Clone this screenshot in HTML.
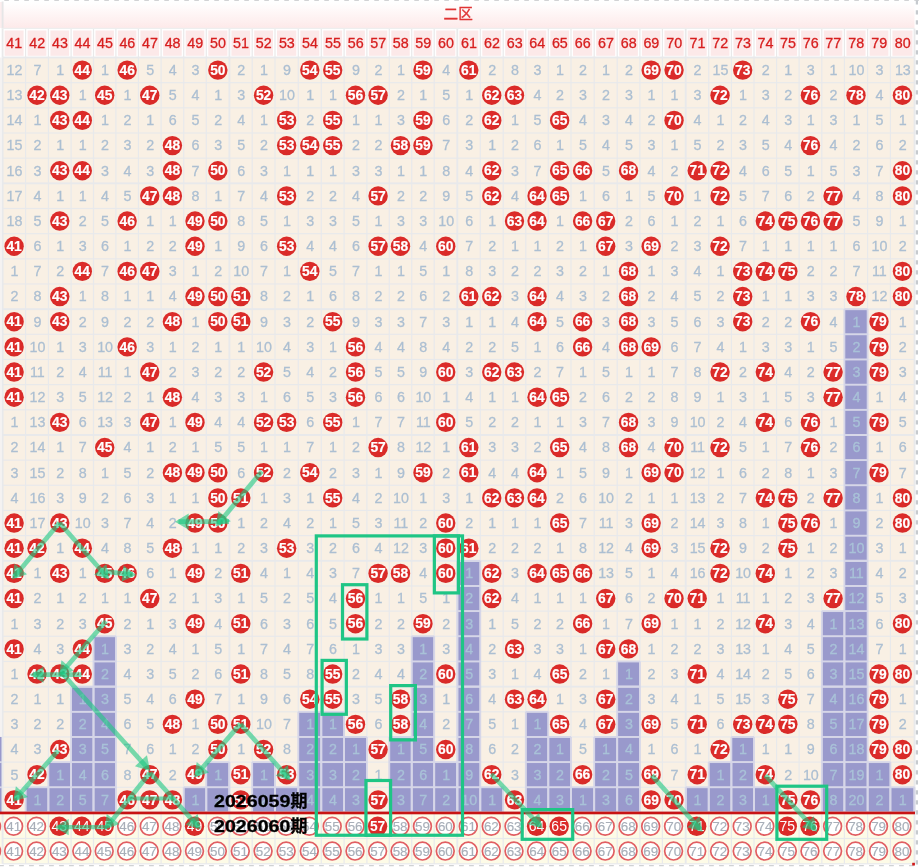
<!DOCTYPE html>
<html lang="zh-CN"><head><meta charset="utf-8"><title>二区</title>
<style>html,body{margin:0;padding:0;background:#fff}body{width:920px;height:867px;overflow:hidden}svg{display:block}</style>
</head><body>
<svg width="920" height="867" viewBox="0 0 920 867" font-family="'Liberation Sans','Noto Sans CJK SC',sans-serif">
<defs>
<linearGradient id="tg" x1="0" y1="0" x2="0" y2="1"><stop offset="0" stop-color="#ffffff"/><stop offset="0.25" stop-color="#fffafa"/><stop offset="1" stop-color="#fde9e9"/></linearGradient>
<radialGradient id="bg" cx="0.45" cy="0.4" r="0.62"><stop offset="0" stop-color="#de2d2b"/><stop offset="0.8" stop-color="#da2a28"/><stop offset="1" stop-color="#d42b2a"/></radialGradient>
</defs>
<rect width="920" height="867" fill="#ffffff"/>
<rect x="0" y="2" width="3" height="26" fill="#fdeeee"/>
<rect x="0" y="57.5" width="1.6" height="754.95" fill="#f5f2f1"/>
<rect x="0" y="736.95" width="1.8" height="75.5" fill="#9999cc"/>
<rect x="0" y="761.22" width="1.8" height="1.8" fill="#d6d6e8"/>
<rect x="0" y="786.38" width="1.8" height="1.8" fill="#d6d6e8"/>
<rect x="0" y="812.45" width="3" height="51.35" fill="#fdfbe7"/>
<rect x="2.6" y="2" width="911.9" height="26.5" fill="url(#tg)"/>
<rect x="1.65" y="1.5" width="1.9" height="27" fill="#e6e6e7"/>
<text x="458.2" y="19.3" font-size="14.6" fill="#e03434" stroke="#e03434" stroke-width="0.35" text-anchor="middle">二区</text>
<rect x="2.6" y="28.5" width="911.9" height="29" fill="#ffffff"/>
<rect x="4.6" y="30.5" width="19" height="25.3" fill="#fce9e9"/>
<text x="14.3" y="48.4" font-size="14.3" fill="#d71f1f" stroke="#d71f1f" stroke-width="0.3" text-anchor="middle">41</text>
<rect x="27.6" y="30.5" width="18.8" height="25.3" fill="#fce9e9"/>
<text x="37.2" y="48.4" font-size="14.3" fill="#d71f1f" stroke="#d71f1f" stroke-width="0.3" text-anchor="middle">42</text>
<rect x="50.4" y="30.5" width="18.7" height="25.3" fill="#fce9e9"/>
<text x="59.95" y="48.4" font-size="14.3" fill="#d71f1f" stroke="#d71f1f" stroke-width="0.3" text-anchor="middle">43</text>
<rect x="73.1" y="30.5" width="18.4" height="25.3" fill="#fce9e9"/>
<text x="82.5" y="48.4" font-size="14.3" fill="#d71f1f" stroke="#d71f1f" stroke-width="0.3" text-anchor="middle">44</text>
<rect x="95.5" y="30.5" width="18.4" height="25.3" fill="#fce9e9"/>
<text x="104.9" y="48.4" font-size="14.3" fill="#d71f1f" stroke="#d71f1f" stroke-width="0.3" text-anchor="middle">45</text>
<rect x="117.9" y="30.5" width="18.5" height="25.3" fill="#fce9e9"/>
<text x="127.35" y="48.4" font-size="14.3" fill="#d71f1f" stroke="#d71f1f" stroke-width="0.3" text-anchor="middle">46</text>
<rect x="140.4" y="30.5" width="18.7" height="25.3" fill="#fce9e9"/>
<text x="149.95" y="48.4" font-size="14.3" fill="#d71f1f" stroke="#d71f1f" stroke-width="0.3" text-anchor="middle">47</text>
<rect x="163.1" y="30.5" width="18.6" height="25.3" fill="#fce9e9"/>
<text x="172.6" y="48.4" font-size="14.3" fill="#d71f1f" stroke="#d71f1f" stroke-width="0.3" text-anchor="middle">48</text>
<rect x="185.7" y="30.5" width="18.6" height="25.3" fill="#fce9e9"/>
<text x="195.2" y="48.4" font-size="14.3" fill="#d71f1f" stroke="#d71f1f" stroke-width="0.3" text-anchor="middle">49</text>
<rect x="208.3" y="30.5" width="19.1" height="25.3" fill="#fce9e9"/>
<text x="218.05" y="48.4" font-size="14.3" fill="#d71f1f" stroke="#d71f1f" stroke-width="0.3" text-anchor="middle">50</text>
<rect x="231.4" y="30.5" width="18.8" height="25.3" fill="#fce9e9"/>
<text x="241" y="48.4" font-size="14.3" fill="#d71f1f" stroke="#d71f1f" stroke-width="0.3" text-anchor="middle">51</text>
<rect x="254.2" y="30.5" width="18.8" height="25.3" fill="#fce9e9"/>
<text x="263.8" y="48.4" font-size="14.3" fill="#d71f1f" stroke="#d71f1f" stroke-width="0.3" text-anchor="middle">52</text>
<rect x="277" y="30.5" width="19.3" height="25.3" fill="#fce9e9"/>
<text x="286.85" y="48.4" font-size="14.3" fill="#d71f1f" stroke="#d71f1f" stroke-width="0.3" text-anchor="middle">53</text>
<rect x="300.3" y="30.5" width="19" height="25.3" fill="#fce9e9"/>
<text x="310" y="48.4" font-size="14.3" fill="#d71f1f" stroke="#d71f1f" stroke-width="0.3" text-anchor="middle">54</text>
<rect x="323.3" y="30.5" width="18.8" height="25.3" fill="#fce9e9"/>
<text x="332.9" y="48.4" font-size="14.3" fill="#d71f1f" stroke="#d71f1f" stroke-width="0.3" text-anchor="middle">55</text>
<rect x="346.1" y="30.5" width="18.8" height="25.3" fill="#fce9e9"/>
<text x="355.7" y="48.4" font-size="14.3" fill="#d71f1f" stroke="#d71f1f" stroke-width="0.3" text-anchor="middle">56</text>
<rect x="368.9" y="30.5" width="18.4" height="25.3" fill="#fce9e9"/>
<text x="378.3" y="48.4" font-size="14.3" fill="#d71f1f" stroke="#d71f1f" stroke-width="0.3" text-anchor="middle">57</text>
<rect x="391.3" y="30.5" width="18.4" height="25.3" fill="#fce9e9"/>
<text x="400.7" y="48.4" font-size="14.3" fill="#d71f1f" stroke="#d71f1f" stroke-width="0.3" text-anchor="middle">58</text>
<rect x="413.7" y="30.5" width="18.5" height="25.3" fill="#fce9e9"/>
<text x="423.15" y="48.4" font-size="14.3" fill="#d71f1f" stroke="#d71f1f" stroke-width="0.3" text-anchor="middle">59</text>
<rect x="436.2" y="30.5" width="19.1" height="25.3" fill="#fce9e9"/>
<text x="445.95" y="48.4" font-size="14.3" fill="#d71f1f" stroke="#d71f1f" stroke-width="0.3" text-anchor="middle">60</text>
<rect x="459.3" y="30.5" width="19" height="25.3" fill="#fce9e9"/>
<text x="469" y="48.4" font-size="14.3" fill="#d71f1f" stroke="#d71f1f" stroke-width="0.3" text-anchor="middle">61</text>
<rect x="482.3" y="30.5" width="18.9" height="25.3" fill="#fce9e9"/>
<text x="491.95" y="48.4" font-size="14.3" fill="#d71f1f" stroke="#d71f1f" stroke-width="0.3" text-anchor="middle">62</text>
<rect x="505.2" y="30.5" width="18.6" height="25.3" fill="#fce9e9"/>
<text x="514.7" y="48.4" font-size="14.3" fill="#d71f1f" stroke="#d71f1f" stroke-width="0.3" text-anchor="middle">63</text>
<rect x="527.8" y="30.5" width="18.5" height="25.3" fill="#fce9e9"/>
<text x="537.25" y="48.4" font-size="14.3" fill="#d71f1f" stroke="#d71f1f" stroke-width="0.3" text-anchor="middle">64</text>
<rect x="550.3" y="30.5" width="18.7" height="25.3" fill="#fce9e9"/>
<text x="559.85" y="48.4" font-size="14.3" fill="#d71f1f" stroke="#d71f1f" stroke-width="0.3" text-anchor="middle">65</text>
<rect x="573" y="30.5" width="19.2" height="25.3" fill="#fce9e9"/>
<text x="582.8" y="48.4" font-size="14.3" fill="#d71f1f" stroke="#d71f1f" stroke-width="0.3" text-anchor="middle">66</text>
<rect x="596.2" y="30.5" width="19" height="25.3" fill="#fce9e9"/>
<text x="605.9" y="48.4" font-size="14.3" fill="#d71f1f" stroke="#d71f1f" stroke-width="0.3" text-anchor="middle">67</text>
<rect x="619.2" y="30.5" width="18.7" height="25.3" fill="#fce9e9"/>
<text x="628.75" y="48.4" font-size="14.3" fill="#d71f1f" stroke="#d71f1f" stroke-width="0.3" text-anchor="middle">68</text>
<rect x="641.9" y="30.5" width="18.5" height="25.3" fill="#fce9e9"/>
<text x="651.35" y="48.4" font-size="14.3" fill="#d71f1f" stroke="#d71f1f" stroke-width="0.3" text-anchor="middle">69</text>
<rect x="664.4" y="30.5" width="19.3" height="25.3" fill="#fce9e9"/>
<text x="674.25" y="48.4" font-size="14.3" fill="#d71f1f" stroke="#d71f1f" stroke-width="0.3" text-anchor="middle">70</text>
<rect x="687.7" y="30.5" width="19" height="25.3" fill="#fce9e9"/>
<text x="697.4" y="48.4" font-size="14.3" fill="#d71f1f" stroke="#d71f1f" stroke-width="0.3" text-anchor="middle">71</text>
<rect x="710.7" y="30.5" width="18.7" height="25.3" fill="#fce9e9"/>
<text x="720.25" y="48.4" font-size="14.3" fill="#d71f1f" stroke="#d71f1f" stroke-width="0.3" text-anchor="middle">72</text>
<rect x="733.4" y="30.5" width="18.6" height="25.3" fill="#fce9e9"/>
<text x="742.9" y="48.4" font-size="14.3" fill="#d71f1f" stroke="#d71f1f" stroke-width="0.3" text-anchor="middle">73</text>
<rect x="756" y="30.5" width="18.6" height="25.3" fill="#fce9e9"/>
<text x="765.5" y="48.4" font-size="14.3" fill="#d71f1f" stroke="#d71f1f" stroke-width="0.3" text-anchor="middle">74</text>
<rect x="778.6" y="30.5" width="18.5" height="25.3" fill="#fce9e9"/>
<text x="788.05" y="48.4" font-size="14.3" fill="#d71f1f" stroke="#d71f1f" stroke-width="0.3" text-anchor="middle">75</text>
<rect x="801.1" y="30.5" width="18.7" height="25.3" fill="#fce9e9"/>
<text x="810.65" y="48.4" font-size="14.3" fill="#d71f1f" stroke="#d71f1f" stroke-width="0.3" text-anchor="middle">76</text>
<rect x="823.8" y="30.5" width="18.6" height="25.3" fill="#fce9e9"/>
<text x="833.3" y="48.4" font-size="14.3" fill="#d71f1f" stroke="#d71f1f" stroke-width="0.3" text-anchor="middle">77</text>
<rect x="846.4" y="30.5" width="19.2" height="25.3" fill="#fce9e9"/>
<text x="856.2" y="48.4" font-size="14.3" fill="#d71f1f" stroke="#d71f1f" stroke-width="0.3" text-anchor="middle">78</text>
<rect x="869.6" y="30.5" width="18.8" height="25.3" fill="#fce9e9"/>
<text x="879.2" y="48.4" font-size="14.3" fill="#d71f1f" stroke="#d71f1f" stroke-width="0.3" text-anchor="middle">79</text>
<rect x="892.4" y="30.5" width="20.1" height="25.3" fill="#fce9e9"/>
<text x="902.65" y="48.4" font-size="14.3" fill="#d71f1f" stroke="#d71f1f" stroke-width="0.3" text-anchor="middle">80</text>
<rect x="1.7" y="28.5" width="1.8" height="29" fill="#e9e9ea"/>
<rect x="25" y="28.5" width="1.2" height="29" fill="#e9e9ea"/>
<rect x="47.8" y="28.5" width="1.2" height="29" fill="#e9e9ea"/>
<rect x="70.5" y="28.5" width="1.2" height="29" fill="#e9e9ea"/>
<rect x="92.9" y="28.5" width="1.2" height="29" fill="#e9e9ea"/>
<rect x="115.3" y="28.5" width="1.2" height="29" fill="#e9e9ea"/>
<rect x="137.8" y="28.5" width="1.2" height="29" fill="#e9e9ea"/>
<rect x="160.5" y="28.5" width="1.2" height="29" fill="#e9e9ea"/>
<rect x="183.1" y="28.5" width="1.2" height="29" fill="#e9e9ea"/>
<rect x="205.7" y="28.5" width="1.2" height="29" fill="#e9e9ea"/>
<rect x="228.5" y="28.5" width="1.8" height="29" fill="#e9e9ea"/>
<rect x="251.6" y="28.5" width="1.2" height="29" fill="#e9e9ea"/>
<rect x="274.4" y="28.5" width="1.2" height="29" fill="#e9e9ea"/>
<rect x="297.7" y="28.5" width="1.2" height="29" fill="#e9e9ea"/>
<rect x="320.7" y="28.5" width="1.2" height="29" fill="#e9e9ea"/>
<rect x="343.5" y="28.5" width="1.2" height="29" fill="#e9e9ea"/>
<rect x="366.3" y="28.5" width="1.2" height="29" fill="#e9e9ea"/>
<rect x="388.7" y="28.5" width="1.2" height="29" fill="#e9e9ea"/>
<rect x="411.1" y="28.5" width="1.2" height="29" fill="#e9e9ea"/>
<rect x="433.6" y="28.5" width="1.2" height="29" fill="#e9e9ea"/>
<rect x="456.4" y="28.5" width="1.8" height="29" fill="#e9e9ea"/>
<rect x="479.7" y="28.5" width="1.2" height="29" fill="#e9e9ea"/>
<rect x="502.6" y="28.5" width="1.2" height="29" fill="#e9e9ea"/>
<rect x="525.2" y="28.5" width="1.2" height="29" fill="#e9e9ea"/>
<rect x="547.7" y="28.5" width="1.2" height="29" fill="#e9e9ea"/>
<rect x="570.4" y="28.5" width="1.2" height="29" fill="#e9e9ea"/>
<rect x="593.6" y="28.5" width="1.2" height="29" fill="#e9e9ea"/>
<rect x="616.6" y="28.5" width="1.2" height="29" fill="#e9e9ea"/>
<rect x="639.3" y="28.5" width="1.2" height="29" fill="#e9e9ea"/>
<rect x="661.8" y="28.5" width="1.2" height="29" fill="#e9e9ea"/>
<rect x="684.8" y="28.5" width="1.8" height="29" fill="#e9e9ea"/>
<rect x="708.1" y="28.5" width="1.2" height="29" fill="#e9e9ea"/>
<rect x="730.8" y="28.5" width="1.2" height="29" fill="#e9e9ea"/>
<rect x="753.4" y="28.5" width="1.2" height="29" fill="#e9e9ea"/>
<rect x="776" y="28.5" width="1.2" height="29" fill="#e9e9ea"/>
<rect x="798.5" y="28.5" width="1.2" height="29" fill="#e9e9ea"/>
<rect x="821.2" y="28.5" width="1.2" height="29" fill="#e9e9ea"/>
<rect x="843.8" y="28.5" width="1.2" height="29" fill="#e9e9ea"/>
<rect x="867" y="28.5" width="1.2" height="29" fill="#e9e9ea"/>
<rect x="889.8" y="28.5" width="1.2" height="29" fill="#e9e9ea"/>
<rect x="913.6" y="28.5" width="1.8" height="29" fill="#e9e9ea"/>
<rect x="2.6" y="27.8" width="911.9" height="1.2" fill="#eeeeee"/>
<rect x="2.6" y="57.5" width="911.9" height="754.95" fill="#f9f0e4"/>
<rect x="2.6" y="812.45" width="911.9" height="51.35" fill="#fdfbe7"/>
<rect x="25.6" y="787.28" width="22.8" height="25.16" fill="#9999cc"/>
<rect x="48.4" y="762.12" width="22.7" height="50.33" fill="#9999cc"/>
<rect x="71.1" y="686.62" width="22.4" height="125.82" fill="#9999cc"/>
<rect x="93.5" y="636.29" width="22.4" height="176.15" fill="#9999cc"/>
<rect x="183.7" y="787.28" width="22.6" height="25.16" fill="#9999cc"/>
<rect x="206.3" y="762.12" width="23.1" height="50.33" fill="#9999cc"/>
<rect x="252.2" y="762.12" width="22.8" height="50.33" fill="#9999cc"/>
<rect x="275" y="787.28" width="23.3" height="25.16" fill="#9999cc"/>
<rect x="298.3" y="711.79" width="23" height="100.66" fill="#9999cc"/>
<rect x="321.3" y="711.79" width="22.8" height="100.66" fill="#9999cc"/>
<rect x="344.1" y="736.95" width="22.8" height="75.5" fill="#9999cc"/>
<rect x="389.3" y="736.95" width="22.4" height="75.5" fill="#9999cc"/>
<rect x="411.7" y="636.29" width="22.5" height="176.15" fill="#9999cc"/>
<rect x="434.2" y="762.12" width="23.1" height="50.33" fill="#9999cc"/>
<rect x="457.3" y="560.8" width="23" height="251.65" fill="#9999cc"/>
<rect x="480.3" y="787.28" width="22.9" height="25.16" fill="#9999cc"/>
<rect x="525.8" y="711.79" width="22.5" height="100.66" fill="#9999cc"/>
<rect x="548.3" y="736.95" width="22.7" height="75.5" fill="#9999cc"/>
<rect x="571" y="787.28" width="23.2" height="25.16" fill="#9999cc"/>
<rect x="594.2" y="736.95" width="23" height="75.5" fill="#9999cc"/>
<rect x="617.2" y="661.46" width="22.7" height="150.99" fill="#9999cc"/>
<rect x="685.7" y="787.28" width="23" height="25.16" fill="#9999cc"/>
<rect x="708.7" y="762.12" width="22.7" height="50.33" fill="#9999cc"/>
<rect x="731.4" y="736.95" width="22.6" height="75.5" fill="#9999cc"/>
<rect x="754" y="787.28" width="22.6" height="25.16" fill="#9999cc"/>
<rect x="821.8" y="611.13" width="22.6" height="201.32" fill="#9999cc"/>
<rect x="844.4" y="309.15" width="23.2" height="503.3" fill="#9999cc"/>
<rect x="867.6" y="762.12" width="22.8" height="50.33" fill="#9999cc"/>
<rect x="890.4" y="787.28" width="24.1" height="25.16" fill="#9999cc"/>
<rect x="1.65" y="57.5" width="1.9" height="806.3" fill="#e8e9eb"/>
<rect x="25" y="57.5" width="1.2" height="806.3" fill="#e8e9eb"/>
<rect x="47.8" y="57.5" width="1.2" height="806.3" fill="#e8e9eb"/>
<rect x="70.5" y="57.5" width="1.2" height="806.3" fill="#e8e9eb"/>
<rect x="92.9" y="57.5" width="1.2" height="806.3" fill="#e8e9eb"/>
<rect x="115.3" y="57.5" width="1.2" height="806.3" fill="#e8e9eb"/>
<rect x="137.8" y="57.5" width="1.2" height="806.3" fill="#e8e9eb"/>
<rect x="160.5" y="57.5" width="1.2" height="806.3" fill="#e8e9eb"/>
<rect x="183.1" y="57.5" width="1.2" height="806.3" fill="#e8e9eb"/>
<rect x="205.7" y="57.5" width="1.2" height="806.3" fill="#e8e9eb"/>
<rect x="228.45" y="57.5" width="1.9" height="806.3" fill="#e8e9eb"/>
<rect x="251.6" y="57.5" width="1.2" height="806.3" fill="#e8e9eb"/>
<rect x="274.4" y="57.5" width="1.2" height="806.3" fill="#e8e9eb"/>
<rect x="297.7" y="57.5" width="1.2" height="806.3" fill="#e8e9eb"/>
<rect x="320.7" y="57.5" width="1.2" height="806.3" fill="#e8e9eb"/>
<rect x="343.5" y="57.5" width="1.2" height="806.3" fill="#e8e9eb"/>
<rect x="366.3" y="57.5" width="1.2" height="806.3" fill="#e8e9eb"/>
<rect x="388.7" y="57.5" width="1.2" height="806.3" fill="#e8e9eb"/>
<rect x="411.1" y="57.5" width="1.2" height="806.3" fill="#e8e9eb"/>
<rect x="433.6" y="57.5" width="1.2" height="806.3" fill="#e8e9eb"/>
<rect x="456.35" y="57.5" width="1.9" height="806.3" fill="#e8e9eb"/>
<rect x="479.7" y="57.5" width="1.2" height="806.3" fill="#e8e9eb"/>
<rect x="502.6" y="57.5" width="1.2" height="806.3" fill="#e8e9eb"/>
<rect x="525.2" y="57.5" width="1.2" height="806.3" fill="#e8e9eb"/>
<rect x="547.7" y="57.5" width="1.2" height="806.3" fill="#e8e9eb"/>
<rect x="570.4" y="57.5" width="1.2" height="806.3" fill="#e8e9eb"/>
<rect x="593.6" y="57.5" width="1.2" height="806.3" fill="#e8e9eb"/>
<rect x="616.6" y="57.5" width="1.2" height="806.3" fill="#e8e9eb"/>
<rect x="639.3" y="57.5" width="1.2" height="806.3" fill="#e8e9eb"/>
<rect x="661.8" y="57.5" width="1.2" height="806.3" fill="#e8e9eb"/>
<rect x="684.75" y="57.5" width="1.9" height="806.3" fill="#e8e9eb"/>
<rect x="708.1" y="57.5" width="1.2" height="806.3" fill="#e8e9eb"/>
<rect x="730.8" y="57.5" width="1.2" height="806.3" fill="#e8e9eb"/>
<rect x="753.4" y="57.5" width="1.2" height="806.3" fill="#e8e9eb"/>
<rect x="776" y="57.5" width="1.2" height="806.3" fill="#e8e9eb"/>
<rect x="798.5" y="57.5" width="1.2" height="806.3" fill="#e8e9eb"/>
<rect x="821.2" y="57.5" width="1.2" height="806.3" fill="#e8e9eb"/>
<rect x="843.8" y="57.5" width="1.2" height="806.3" fill="#e8e9eb"/>
<rect x="867" y="57.5" width="1.2" height="806.3" fill="#e8e9eb"/>
<rect x="889.8" y="57.5" width="1.2" height="806.3" fill="#e8e9eb"/>
<rect x="913.55" y="57.5" width="1.9" height="806.3" fill="#e8e9eb"/>
<rect x="2.6" y="56.55" width="911.9" height="1.9" fill="#e8e9eb"/>
<rect x="2.6" y="82.06" width="911.9" height="1.2" fill="#e8e9eb"/>
<rect x="2.6" y="107.23" width="911.9" height="1.2" fill="#e8e9eb"/>
<rect x="2.6" y="132.4" width="911.9" height="1.2" fill="#e8e9eb"/>
<rect x="2.6" y="157.56" width="911.9" height="1.2" fill="#e8e9eb"/>
<rect x="2.6" y="182.38" width="911.9" height="1.9" fill="#e8e9eb"/>
<rect x="2.6" y="207.89" width="911.9" height="1.2" fill="#e8e9eb"/>
<rect x="2.6" y="233.06" width="911.9" height="1.2" fill="#e8e9eb"/>
<rect x="2.6" y="258.22" width="911.9" height="1.2" fill="#e8e9eb"/>
<rect x="2.6" y="283.38" width="911.9" height="1.2" fill="#e8e9eb"/>
<rect x="2.6" y="308.2" width="911.9" height="1.9" fill="#e8e9eb"/>
<rect x="2.6" y="333.71" width="911.9" height="1.2" fill="#e8e9eb"/>
<rect x="2.6" y="358.88" width="911.9" height="1.2" fill="#e8e9eb"/>
<rect x="2.6" y="384.04" width="911.9" height="1.2" fill="#e8e9eb"/>
<rect x="2.6" y="409.21" width="911.9" height="1.2" fill="#e8e9eb"/>
<rect x="2.6" y="434.02" width="911.9" height="1.9" fill="#e8e9eb"/>
<rect x="2.6" y="459.54" width="911.9" height="1.2" fill="#e8e9eb"/>
<rect x="2.6" y="484.7" width="911.9" height="1.2" fill="#e8e9eb"/>
<rect x="2.6" y="509.87" width="911.9" height="1.2" fill="#e8e9eb"/>
<rect x="2.6" y="535.03" width="911.9" height="1.2" fill="#e8e9eb"/>
<rect x="2.6" y="559.85" width="911.9" height="1.9" fill="#e8e9eb"/>
<rect x="2.6" y="585.37" width="911.9" height="1.2" fill="#e8e9eb"/>
<rect x="2.6" y="610.53" width="911.9" height="1.2" fill="#e8e9eb"/>
<rect x="2.6" y="635.69" width="911.9" height="1.2" fill="#e8e9eb"/>
<rect x="2.6" y="660.86" width="911.9" height="1.2" fill="#e8e9eb"/>
<rect x="2.6" y="685.67" width="911.9" height="1.9" fill="#e8e9eb"/>
<rect x="2.6" y="711.19" width="911.9" height="1.2" fill="#e8e9eb"/>
<rect x="2.6" y="736.35" width="911.9" height="1.2" fill="#e8e9eb"/>
<rect x="2.6" y="761.52" width="911.9" height="1.2" fill="#e8e9eb"/>
<rect x="2.6" y="786.68" width="911.9" height="1.2" fill="#e8e9eb"/>
<rect x="2.6" y="811.5" width="911.9" height="1.9" fill="#e8e9eb"/>
<rect x="2.6" y="837.9" width="911.9" height="1.2" fill="#e8e9eb"/>
<rect x="2.6" y="863.2" width="911.9" height="1.2" fill="#e8e9eb"/>
<rect x="24.7" y="787.28" width="1.8" height="25.16" fill="#d6d6e8"/>
<rect x="47.5" y="787.28" width="1.8" height="25.16" fill="#d6d6e8"/>
<rect x="25.6" y="786.38" width="22.8" height="1.8" fill="#d6d6e8"/>
<rect x="47.5" y="762.12" width="1.8" height="50.33" fill="#d6d6e8"/>
<rect x="70.2" y="762.12" width="1.8" height="50.33" fill="#d6d6e8"/>
<rect x="48.4" y="761.22" width="22.7" height="1.8" fill="#d6d6e8"/>
<rect x="48.4" y="786.38" width="22.7" height="1.8" fill="#d6d6e8"/>
<rect x="70.2" y="686.62" width="1.8" height="125.82" fill="#d6d6e8"/>
<rect x="92.6" y="686.62" width="1.8" height="125.82" fill="#d6d6e8"/>
<rect x="71.1" y="685.73" width="22.4" height="1.8" fill="#d6d6e8"/>
<rect x="71.1" y="710.89" width="22.4" height="1.8" fill="#d6d6e8"/>
<rect x="71.1" y="736.05" width="22.4" height="1.8" fill="#d6d6e8"/>
<rect x="71.1" y="761.22" width="22.4" height="1.8" fill="#d6d6e8"/>
<rect x="71.1" y="786.38" width="22.4" height="1.8" fill="#d6d6e8"/>
<rect x="92.6" y="636.29" width="1.8" height="176.15" fill="#d6d6e8"/>
<rect x="115" y="636.29" width="1.8" height="176.15" fill="#d6d6e8"/>
<rect x="93.5" y="635.39" width="22.4" height="1.8" fill="#d6d6e8"/>
<rect x="93.5" y="660.56" width="22.4" height="1.8" fill="#d6d6e8"/>
<rect x="93.5" y="685.73" width="22.4" height="1.8" fill="#d6d6e8"/>
<rect x="93.5" y="710.89" width="22.4" height="1.8" fill="#d6d6e8"/>
<rect x="93.5" y="736.05" width="22.4" height="1.8" fill="#d6d6e8"/>
<rect x="93.5" y="761.22" width="22.4" height="1.8" fill="#d6d6e8"/>
<rect x="93.5" y="786.38" width="22.4" height="1.8" fill="#d6d6e8"/>
<rect x="182.8" y="787.28" width="1.8" height="25.16" fill="#d6d6e8"/>
<rect x="205.4" y="787.28" width="1.8" height="25.16" fill="#d6d6e8"/>
<rect x="183.7" y="786.38" width="22.6" height="1.8" fill="#d6d6e8"/>
<rect x="205.4" y="762.12" width="1.8" height="50.33" fill="#d6d6e8"/>
<rect x="228.5" y="762.12" width="1.8" height="50.33" fill="#d6d6e8"/>
<rect x="206.3" y="761.22" width="23.1" height="1.8" fill="#d6d6e8"/>
<rect x="206.3" y="786.38" width="23.1" height="1.8" fill="#d6d6e8"/>
<rect x="251.3" y="762.12" width="1.8" height="50.33" fill="#d6d6e8"/>
<rect x="274.1" y="762.12" width="1.8" height="50.33" fill="#d6d6e8"/>
<rect x="252.2" y="761.22" width="22.8" height="1.8" fill="#d6d6e8"/>
<rect x="252.2" y="786.38" width="22.8" height="1.8" fill="#d6d6e8"/>
<rect x="274.1" y="787.28" width="1.8" height="25.16" fill="#d6d6e8"/>
<rect x="297.4" y="787.28" width="1.8" height="25.16" fill="#d6d6e8"/>
<rect x="275" y="786.38" width="23.3" height="1.8" fill="#d6d6e8"/>
<rect x="297.4" y="711.79" width="1.8" height="100.66" fill="#d6d6e8"/>
<rect x="320.4" y="711.79" width="1.8" height="100.66" fill="#d6d6e8"/>
<rect x="298.3" y="710.89" width="23" height="1.8" fill="#d6d6e8"/>
<rect x="298.3" y="736.05" width="23" height="1.8" fill="#d6d6e8"/>
<rect x="298.3" y="761.22" width="23" height="1.8" fill="#d6d6e8"/>
<rect x="298.3" y="786.38" width="23" height="1.8" fill="#d6d6e8"/>
<rect x="320.4" y="711.79" width="1.8" height="100.66" fill="#d6d6e8"/>
<rect x="343.2" y="711.79" width="1.8" height="100.66" fill="#d6d6e8"/>
<rect x="321.3" y="710.89" width="22.8" height="1.8" fill="#d6d6e8"/>
<rect x="321.3" y="736.05" width="22.8" height="1.8" fill="#d6d6e8"/>
<rect x="321.3" y="761.22" width="22.8" height="1.8" fill="#d6d6e8"/>
<rect x="321.3" y="786.38" width="22.8" height="1.8" fill="#d6d6e8"/>
<rect x="343.2" y="736.95" width="1.8" height="75.5" fill="#d6d6e8"/>
<rect x="366" y="736.95" width="1.8" height="75.5" fill="#d6d6e8"/>
<rect x="344.1" y="736.05" width="22.8" height="1.8" fill="#d6d6e8"/>
<rect x="344.1" y="761.22" width="22.8" height="1.8" fill="#d6d6e8"/>
<rect x="344.1" y="786.38" width="22.8" height="1.8" fill="#d6d6e8"/>
<rect x="388.4" y="736.95" width="1.8" height="75.5" fill="#d6d6e8"/>
<rect x="410.8" y="736.95" width="1.8" height="75.5" fill="#d6d6e8"/>
<rect x="389.3" y="736.05" width="22.4" height="1.8" fill="#d6d6e8"/>
<rect x="389.3" y="761.22" width="22.4" height="1.8" fill="#d6d6e8"/>
<rect x="389.3" y="786.38" width="22.4" height="1.8" fill="#d6d6e8"/>
<rect x="410.8" y="636.29" width="1.8" height="176.15" fill="#d6d6e8"/>
<rect x="433.3" y="636.29" width="1.8" height="176.15" fill="#d6d6e8"/>
<rect x="411.7" y="635.39" width="22.5" height="1.8" fill="#d6d6e8"/>
<rect x="411.7" y="660.56" width="22.5" height="1.8" fill="#d6d6e8"/>
<rect x="411.7" y="685.73" width="22.5" height="1.8" fill="#d6d6e8"/>
<rect x="411.7" y="710.89" width="22.5" height="1.8" fill="#d6d6e8"/>
<rect x="411.7" y="736.05" width="22.5" height="1.8" fill="#d6d6e8"/>
<rect x="411.7" y="761.22" width="22.5" height="1.8" fill="#d6d6e8"/>
<rect x="411.7" y="786.38" width="22.5" height="1.8" fill="#d6d6e8"/>
<rect x="433.3" y="762.12" width="1.8" height="50.33" fill="#d6d6e8"/>
<rect x="456.4" y="762.12" width="1.8" height="50.33" fill="#d6d6e8"/>
<rect x="434.2" y="761.22" width="23.1" height="1.8" fill="#d6d6e8"/>
<rect x="434.2" y="786.38" width="23.1" height="1.8" fill="#d6d6e8"/>
<rect x="456.4" y="560.8" width="1.8" height="251.65" fill="#d6d6e8"/>
<rect x="479.4" y="560.8" width="1.8" height="251.65" fill="#d6d6e8"/>
<rect x="457.3" y="559.9" width="23" height="1.8" fill="#d6d6e8"/>
<rect x="457.3" y="585.07" width="23" height="1.8" fill="#d6d6e8"/>
<rect x="457.3" y="610.23" width="23" height="1.8" fill="#d6d6e8"/>
<rect x="457.3" y="635.39" width="23" height="1.8" fill="#d6d6e8"/>
<rect x="457.3" y="660.56" width="23" height="1.8" fill="#d6d6e8"/>
<rect x="457.3" y="685.73" width="23" height="1.8" fill="#d6d6e8"/>
<rect x="457.3" y="710.89" width="23" height="1.8" fill="#d6d6e8"/>
<rect x="457.3" y="736.05" width="23" height="1.8" fill="#d6d6e8"/>
<rect x="457.3" y="761.22" width="23" height="1.8" fill="#d6d6e8"/>
<rect x="457.3" y="786.38" width="23" height="1.8" fill="#d6d6e8"/>
<rect x="479.4" y="787.28" width="1.8" height="25.16" fill="#d6d6e8"/>
<rect x="502.3" y="787.28" width="1.8" height="25.16" fill="#d6d6e8"/>
<rect x="480.3" y="786.38" width="22.9" height="1.8" fill="#d6d6e8"/>
<rect x="524.9" y="711.79" width="1.8" height="100.66" fill="#d6d6e8"/>
<rect x="547.4" y="711.79" width="1.8" height="100.66" fill="#d6d6e8"/>
<rect x="525.8" y="710.89" width="22.5" height="1.8" fill="#d6d6e8"/>
<rect x="525.8" y="736.05" width="22.5" height="1.8" fill="#d6d6e8"/>
<rect x="525.8" y="761.22" width="22.5" height="1.8" fill="#d6d6e8"/>
<rect x="525.8" y="786.38" width="22.5" height="1.8" fill="#d6d6e8"/>
<rect x="547.4" y="736.95" width="1.8" height="75.5" fill="#d6d6e8"/>
<rect x="570.1" y="736.95" width="1.8" height="75.5" fill="#d6d6e8"/>
<rect x="548.3" y="736.05" width="22.7" height="1.8" fill="#d6d6e8"/>
<rect x="548.3" y="761.22" width="22.7" height="1.8" fill="#d6d6e8"/>
<rect x="548.3" y="786.38" width="22.7" height="1.8" fill="#d6d6e8"/>
<rect x="570.1" y="787.28" width="1.8" height="25.16" fill="#d6d6e8"/>
<rect x="593.3" y="787.28" width="1.8" height="25.16" fill="#d6d6e8"/>
<rect x="571" y="786.38" width="23.2" height="1.8" fill="#d6d6e8"/>
<rect x="593.3" y="736.95" width="1.8" height="75.5" fill="#d6d6e8"/>
<rect x="616.3" y="736.95" width="1.8" height="75.5" fill="#d6d6e8"/>
<rect x="594.2" y="736.05" width="23" height="1.8" fill="#d6d6e8"/>
<rect x="594.2" y="761.22" width="23" height="1.8" fill="#d6d6e8"/>
<rect x="594.2" y="786.38" width="23" height="1.8" fill="#d6d6e8"/>
<rect x="616.3" y="661.46" width="1.8" height="150.99" fill="#d6d6e8"/>
<rect x="639" y="661.46" width="1.8" height="150.99" fill="#d6d6e8"/>
<rect x="617.2" y="660.56" width="22.7" height="1.8" fill="#d6d6e8"/>
<rect x="617.2" y="685.73" width="22.7" height="1.8" fill="#d6d6e8"/>
<rect x="617.2" y="710.89" width="22.7" height="1.8" fill="#d6d6e8"/>
<rect x="617.2" y="736.05" width="22.7" height="1.8" fill="#d6d6e8"/>
<rect x="617.2" y="761.22" width="22.7" height="1.8" fill="#d6d6e8"/>
<rect x="617.2" y="786.38" width="22.7" height="1.8" fill="#d6d6e8"/>
<rect x="684.8" y="787.28" width="1.8" height="25.16" fill="#d6d6e8"/>
<rect x="707.8" y="787.28" width="1.8" height="25.16" fill="#d6d6e8"/>
<rect x="685.7" y="786.38" width="23" height="1.8" fill="#d6d6e8"/>
<rect x="707.8" y="762.12" width="1.8" height="50.33" fill="#d6d6e8"/>
<rect x="730.5" y="762.12" width="1.8" height="50.33" fill="#d6d6e8"/>
<rect x="708.7" y="761.22" width="22.7" height="1.8" fill="#d6d6e8"/>
<rect x="708.7" y="786.38" width="22.7" height="1.8" fill="#d6d6e8"/>
<rect x="730.5" y="736.95" width="1.8" height="75.5" fill="#d6d6e8"/>
<rect x="753.1" y="736.95" width="1.8" height="75.5" fill="#d6d6e8"/>
<rect x="731.4" y="736.05" width="22.6" height="1.8" fill="#d6d6e8"/>
<rect x="731.4" y="761.22" width="22.6" height="1.8" fill="#d6d6e8"/>
<rect x="731.4" y="786.38" width="22.6" height="1.8" fill="#d6d6e8"/>
<rect x="753.1" y="787.28" width="1.8" height="25.16" fill="#d6d6e8"/>
<rect x="775.7" y="787.28" width="1.8" height="25.16" fill="#d6d6e8"/>
<rect x="754" y="786.38" width="22.6" height="1.8" fill="#d6d6e8"/>
<rect x="820.9" y="611.13" width="1.8" height="201.32" fill="#d6d6e8"/>
<rect x="843.5" y="611.13" width="1.8" height="201.32" fill="#d6d6e8"/>
<rect x="821.8" y="610.23" width="22.6" height="1.8" fill="#d6d6e8"/>
<rect x="821.8" y="635.39" width="22.6" height="1.8" fill="#d6d6e8"/>
<rect x="821.8" y="660.56" width="22.6" height="1.8" fill="#d6d6e8"/>
<rect x="821.8" y="685.73" width="22.6" height="1.8" fill="#d6d6e8"/>
<rect x="821.8" y="710.89" width="22.6" height="1.8" fill="#d6d6e8"/>
<rect x="821.8" y="736.05" width="22.6" height="1.8" fill="#d6d6e8"/>
<rect x="821.8" y="761.22" width="22.6" height="1.8" fill="#d6d6e8"/>
<rect x="821.8" y="786.38" width="22.6" height="1.8" fill="#d6d6e8"/>
<rect x="843.5" y="309.15" width="1.8" height="503.3" fill="#d6d6e8"/>
<rect x="866.7" y="309.15" width="1.8" height="503.3" fill="#d6d6e8"/>
<rect x="844.4" y="308.25" width="23.2" height="1.8" fill="#d6d6e8"/>
<rect x="844.4" y="333.42" width="23.2" height="1.8" fill="#d6d6e8"/>
<rect x="844.4" y="358.58" width="23.2" height="1.8" fill="#d6d6e8"/>
<rect x="844.4" y="383.75" width="23.2" height="1.8" fill="#d6d6e8"/>
<rect x="844.4" y="408.91" width="23.2" height="1.8" fill="#d6d6e8"/>
<rect x="844.4" y="434.07" width="23.2" height="1.8" fill="#d6d6e8"/>
<rect x="844.4" y="459.24" width="23.2" height="1.8" fill="#d6d6e8"/>
<rect x="844.4" y="484.41" width="23.2" height="1.8" fill="#d6d6e8"/>
<rect x="844.4" y="509.57" width="23.2" height="1.8" fill="#d6d6e8"/>
<rect x="844.4" y="534.74" width="23.2" height="1.8" fill="#d6d6e8"/>
<rect x="844.4" y="559.9" width="23.2" height="1.8" fill="#d6d6e8"/>
<rect x="844.4" y="585.07" width="23.2" height="1.8" fill="#d6d6e8"/>
<rect x="844.4" y="610.23" width="23.2" height="1.8" fill="#d6d6e8"/>
<rect x="844.4" y="635.39" width="23.2" height="1.8" fill="#d6d6e8"/>
<rect x="844.4" y="660.56" width="23.2" height="1.8" fill="#d6d6e8"/>
<rect x="844.4" y="685.73" width="23.2" height="1.8" fill="#d6d6e8"/>
<rect x="844.4" y="710.89" width="23.2" height="1.8" fill="#d6d6e8"/>
<rect x="844.4" y="736.05" width="23.2" height="1.8" fill="#d6d6e8"/>
<rect x="844.4" y="761.22" width="23.2" height="1.8" fill="#d6d6e8"/>
<rect x="844.4" y="786.38" width="23.2" height="1.8" fill="#d6d6e8"/>
<rect x="866.7" y="762.12" width="1.8" height="50.33" fill="#d6d6e8"/>
<rect x="889.5" y="762.12" width="1.8" height="50.33" fill="#d6d6e8"/>
<rect x="867.6" y="761.22" width="22.8" height="1.8" fill="#d6d6e8"/>
<rect x="867.6" y="786.38" width="22.8" height="1.8" fill="#d6d6e8"/>
<rect x="889.5" y="787.28" width="1.8" height="25.16" fill="#d6d6e8"/>
<rect x="913.6" y="787.28" width="1.8" height="25.16" fill="#d6d6e8"/>
<rect x="890.4" y="786.38" width="24.1" height="1.8" fill="#d6d6e8"/>
<g font-size="14.3" text-anchor="middle" fill="#acbfd2" stroke="#acbfd2" stroke-width="0.28">
<text x="14.5" y="74.98">12</text>
<text x="37.4" y="74.98">7</text>
<text x="60.15" y="74.98">1</text>
<text x="105.1" y="74.98">1</text>
<text x="150.15" y="74.98">5</text>
<text x="172.8" y="74.98">4</text>
<text x="195.4" y="74.98">3</text>
<text x="241.2" y="74.98">2</text>
<text x="264" y="74.98">1</text>
<text x="287.05" y="74.98">9</text>
<text x="355.9" y="74.98">9</text>
<text x="378.5" y="74.98">2</text>
<text x="400.9" y="74.98">1</text>
<text x="446.15" y="74.98">4</text>
<text x="492.15" y="74.98">2</text>
<text x="514.9" y="74.98">8</text>
<text x="537.45" y="74.98">3</text>
<text x="560.05" y="74.98">1</text>
<text x="583" y="74.98">2</text>
<text x="606.1" y="74.98">1</text>
<text x="628.95" y="74.98">2</text>
<text x="697.6" y="74.98">2</text>
<text x="720.45" y="74.98">15</text>
<text x="765.7" y="74.98">2</text>
<text x="788.25" y="74.98">1</text>
<text x="810.85" y="74.98">3</text>
<text x="833.5" y="74.98">1</text>
<text x="856.4" y="74.98">10</text>
<text x="879.4" y="74.98">3</text>
<text x="902.85" y="74.98">13</text>
<text x="14.5" y="100.15">13</text>
<text x="82.7" y="100.15">1</text>
<text x="127.55" y="100.15">1</text>
<text x="172.8" y="100.15">5</text>
<text x="195.4" y="100.15">4</text>
<text x="218.25" y="100.15">1</text>
<text x="241.2" y="100.15">3</text>
<text x="287.05" y="100.15">10</text>
<text x="310.2" y="100.15">1</text>
<text x="333.1" y="100.15">1</text>
<text x="400.9" y="100.15">2</text>
<text x="423.35" y="100.15">1</text>
<text x="446.15" y="100.15">5</text>
<text x="469.2" y="100.15">1</text>
<text x="537.45" y="100.15">4</text>
<text x="560.05" y="100.15">2</text>
<text x="583" y="100.15">3</text>
<text x="606.1" y="100.15">2</text>
<text x="628.95" y="100.15">3</text>
<text x="651.55" y="100.15">1</text>
<text x="674.45" y="100.15">1</text>
<text x="697.6" y="100.15">3</text>
<text x="743.1" y="100.15">1</text>
<text x="765.7" y="100.15">3</text>
<text x="788.25" y="100.15">2</text>
<text x="833.5" y="100.15">2</text>
<text x="879.4" y="100.15">4</text>
<text x="14.5" y="125.31">14</text>
<text x="37.4" y="125.31">1</text>
<text x="105.1" y="125.31">1</text>
<text x="127.55" y="125.31">2</text>
<text x="150.15" y="125.31">1</text>
<text x="172.8" y="125.31">6</text>
<text x="195.4" y="125.31">5</text>
<text x="218.25" y="125.31">2</text>
<text x="241.2" y="125.31">4</text>
<text x="264" y="125.31">1</text>
<text x="310.2" y="125.31">2</text>
<text x="355.9" y="125.31">1</text>
<text x="378.5" y="125.31">1</text>
<text x="400.9" y="125.31">3</text>
<text x="446.15" y="125.31">6</text>
<text x="469.2" y="125.31">2</text>
<text x="514.9" y="125.31">1</text>
<text x="537.45" y="125.31">5</text>
<text x="583" y="125.31">4</text>
<text x="606.1" y="125.31">3</text>
<text x="628.95" y="125.31">4</text>
<text x="651.55" y="125.31">2</text>
<text x="697.6" y="125.31">4</text>
<text x="720.45" y="125.31">1</text>
<text x="743.1" y="125.31">2</text>
<text x="765.7" y="125.31">4</text>
<text x="788.25" y="125.31">3</text>
<text x="810.85" y="125.31">1</text>
<text x="833.5" y="125.31">3</text>
<text x="856.4" y="125.31">1</text>
<text x="879.4" y="125.31">5</text>
<text x="902.85" y="125.31">1</text>
<text x="14.5" y="150.48">15</text>
<text x="37.4" y="150.48">2</text>
<text x="60.15" y="150.48">1</text>
<text x="82.7" y="150.48">1</text>
<text x="105.1" y="150.48">2</text>
<text x="127.55" y="150.48">3</text>
<text x="150.15" y="150.48">2</text>
<text x="195.4" y="150.48">6</text>
<text x="218.25" y="150.48">3</text>
<text x="241.2" y="150.48">5</text>
<text x="264" y="150.48">2</text>
<text x="355.9" y="150.48">2</text>
<text x="378.5" y="150.48">2</text>
<text x="446.15" y="150.48">7</text>
<text x="469.2" y="150.48">3</text>
<text x="492.15" y="150.48">1</text>
<text x="514.9" y="150.48">2</text>
<text x="537.45" y="150.48">6</text>
<text x="560.05" y="150.48">1</text>
<text x="583" y="150.48">5</text>
<text x="606.1" y="150.48">4</text>
<text x="628.95" y="150.48">5</text>
<text x="651.55" y="150.48">3</text>
<text x="674.45" y="150.48">1</text>
<text x="697.6" y="150.48">5</text>
<text x="720.45" y="150.48">2</text>
<text x="743.1" y="150.48">3</text>
<text x="765.7" y="150.48">5</text>
<text x="788.25" y="150.48">4</text>
<text x="833.5" y="150.48">4</text>
<text x="856.4" y="150.48">2</text>
<text x="879.4" y="150.48">6</text>
<text x="902.85" y="150.48">2</text>
<text x="14.5" y="175.64">16</text>
<text x="37.4" y="175.64">3</text>
<text x="105.1" y="175.64">3</text>
<text x="127.55" y="175.64">4</text>
<text x="150.15" y="175.64">3</text>
<text x="195.4" y="175.64">7</text>
<text x="241.2" y="175.64">6</text>
<text x="264" y="175.64">3</text>
<text x="287.05" y="175.64">1</text>
<text x="310.2" y="175.64">1</text>
<text x="333.1" y="175.64">1</text>
<text x="355.9" y="175.64">3</text>
<text x="378.5" y="175.64">3</text>
<text x="400.9" y="175.64">1</text>
<text x="423.35" y="175.64">1</text>
<text x="446.15" y="175.64">8</text>
<text x="469.2" y="175.64">4</text>
<text x="514.9" y="175.64">3</text>
<text x="537.45" y="175.64">7</text>
<text x="606.1" y="175.64">5</text>
<text x="651.55" y="175.64">4</text>
<text x="674.45" y="175.64">2</text>
<text x="743.1" y="175.64">4</text>
<text x="765.7" y="175.64">6</text>
<text x="788.25" y="175.64">5</text>
<text x="810.85" y="175.64">1</text>
<text x="833.5" y="175.64">5</text>
<text x="856.4" y="175.64">3</text>
<text x="879.4" y="175.64">7</text>
<text x="14.5" y="200.81">17</text>
<text x="37.4" y="200.81">4</text>
<text x="60.15" y="200.81">1</text>
<text x="82.7" y="200.81">1</text>
<text x="105.1" y="200.81">4</text>
<text x="127.55" y="200.81">5</text>
<text x="195.4" y="200.81">8</text>
<text x="218.25" y="200.81">1</text>
<text x="241.2" y="200.81">7</text>
<text x="264" y="200.81">4</text>
<text x="310.2" y="200.81">2</text>
<text x="333.1" y="200.81">2</text>
<text x="355.9" y="200.81">4</text>
<text x="400.9" y="200.81">2</text>
<text x="423.35" y="200.81">2</text>
<text x="446.15" y="200.81">9</text>
<text x="469.2" y="200.81">5</text>
<text x="514.9" y="200.81">4</text>
<text x="583" y="200.81">1</text>
<text x="606.1" y="200.81">6</text>
<text x="628.95" y="200.81">1</text>
<text x="651.55" y="200.81">5</text>
<text x="697.6" y="200.81">1</text>
<text x="743.1" y="200.81">5</text>
<text x="765.7" y="200.81">7</text>
<text x="788.25" y="200.81">6</text>
<text x="810.85" y="200.81">2</text>
<text x="856.4" y="200.81">4</text>
<text x="879.4" y="200.81">8</text>
<text x="14.5" y="225.97">18</text>
<text x="37.4" y="225.97">5</text>
<text x="82.7" y="225.97">2</text>
<text x="105.1" y="225.97">5</text>
<text x="150.15" y="225.97">1</text>
<text x="172.8" y="225.97">1</text>
<text x="241.2" y="225.97">8</text>
<text x="264" y="225.97">5</text>
<text x="287.05" y="225.97">1</text>
<text x="310.2" y="225.97">3</text>
<text x="333.1" y="225.97">3</text>
<text x="355.9" y="225.97">5</text>
<text x="378.5" y="225.97">1</text>
<text x="400.9" y="225.97">3</text>
<text x="423.35" y="225.97">3</text>
<text x="446.15" y="225.97">10</text>
<text x="469.2" y="225.97">6</text>
<text x="492.15" y="225.97">1</text>
<text x="560.05" y="225.97">1</text>
<text x="628.95" y="225.97">2</text>
<text x="651.55" y="225.97">6</text>
<text x="674.45" y="225.97">1</text>
<text x="697.6" y="225.97">2</text>
<text x="720.45" y="225.97">1</text>
<text x="743.1" y="225.97">6</text>
<text x="856.4" y="225.97">5</text>
<text x="879.4" y="225.97">9</text>
<text x="902.85" y="225.97">1</text>
<text x="37.4" y="251.14">6</text>
<text x="60.15" y="251.14">1</text>
<text x="82.7" y="251.14">3</text>
<text x="105.1" y="251.14">6</text>
<text x="127.55" y="251.14">1</text>
<text x="150.15" y="251.14">2</text>
<text x="172.8" y="251.14">2</text>
<text x="218.25" y="251.14">1</text>
<text x="241.2" y="251.14">9</text>
<text x="264" y="251.14">6</text>
<text x="310.2" y="251.14">4</text>
<text x="333.1" y="251.14">4</text>
<text x="355.9" y="251.14">6</text>
<text x="423.35" y="251.14">4</text>
<text x="469.2" y="251.14">7</text>
<text x="492.15" y="251.14">2</text>
<text x="514.9" y="251.14">1</text>
<text x="537.45" y="251.14">1</text>
<text x="560.05" y="251.14">2</text>
<text x="583" y="251.14">1</text>
<text x="628.95" y="251.14">3</text>
<text x="674.45" y="251.14">2</text>
<text x="697.6" y="251.14">3</text>
<text x="743.1" y="251.14">7</text>
<text x="765.7" y="251.14">1</text>
<text x="788.25" y="251.14">1</text>
<text x="810.85" y="251.14">1</text>
<text x="833.5" y="251.14">1</text>
<text x="856.4" y="251.14">6</text>
<text x="879.4" y="251.14">10</text>
<text x="902.85" y="251.14">2</text>
<text x="14.5" y="276.3">1</text>
<text x="37.4" y="276.3">7</text>
<text x="60.15" y="276.3">2</text>
<text x="105.1" y="276.3">7</text>
<text x="172.8" y="276.3">3</text>
<text x="195.4" y="276.3">1</text>
<text x="218.25" y="276.3">2</text>
<text x="241.2" y="276.3">10</text>
<text x="264" y="276.3">7</text>
<text x="287.05" y="276.3">1</text>
<text x="333.1" y="276.3">5</text>
<text x="355.9" y="276.3">7</text>
<text x="378.5" y="276.3">1</text>
<text x="400.9" y="276.3">1</text>
<text x="423.35" y="276.3">5</text>
<text x="446.15" y="276.3">1</text>
<text x="469.2" y="276.3">8</text>
<text x="492.15" y="276.3">3</text>
<text x="514.9" y="276.3">2</text>
<text x="537.45" y="276.3">2</text>
<text x="560.05" y="276.3">3</text>
<text x="583" y="276.3">2</text>
<text x="606.1" y="276.3">1</text>
<text x="651.55" y="276.3">1</text>
<text x="674.45" y="276.3">3</text>
<text x="697.6" y="276.3">4</text>
<text x="720.45" y="276.3">1</text>
<text x="810.85" y="276.3">2</text>
<text x="833.5" y="276.3">2</text>
<text x="856.4" y="276.3">7</text>
<text x="879.4" y="276.3">11</text>
<text x="14.5" y="301.47">2</text>
<text x="37.4" y="301.47">8</text>
<text x="82.7" y="301.47">1</text>
<text x="105.1" y="301.47">8</text>
<text x="127.55" y="301.47">1</text>
<text x="150.15" y="301.47">1</text>
<text x="172.8" y="301.47">4</text>
<text x="264" y="301.47">8</text>
<text x="287.05" y="301.47">2</text>
<text x="310.2" y="301.47">1</text>
<text x="333.1" y="301.47">6</text>
<text x="355.9" y="301.47">8</text>
<text x="378.5" y="301.47">2</text>
<text x="400.9" y="301.47">2</text>
<text x="423.35" y="301.47">6</text>
<text x="446.15" y="301.47">2</text>
<text x="514.9" y="301.47">3</text>
<text x="560.05" y="301.47">4</text>
<text x="583" y="301.47">3</text>
<text x="606.1" y="301.47">2</text>
<text x="651.55" y="301.47">2</text>
<text x="674.45" y="301.47">4</text>
<text x="697.6" y="301.47">5</text>
<text x="720.45" y="301.47">2</text>
<text x="765.7" y="301.47">1</text>
<text x="788.25" y="301.47">1</text>
<text x="810.85" y="301.47">3</text>
<text x="833.5" y="301.47">3</text>
<text x="879.4" y="301.47">12</text>
<text x="37.4" y="326.63">9</text>
<text x="82.7" y="326.63">2</text>
<text x="105.1" y="326.63">9</text>
<text x="127.55" y="326.63">2</text>
<text x="150.15" y="326.63">2</text>
<text x="195.4" y="326.63">1</text>
<text x="264" y="326.63">9</text>
<text x="287.05" y="326.63">3</text>
<text x="310.2" y="326.63">2</text>
<text x="355.9" y="326.63">9</text>
<text x="378.5" y="326.63">3</text>
<text x="400.9" y="326.63">3</text>
<text x="423.35" y="326.63">7</text>
<text x="446.15" y="326.63">3</text>
<text x="469.2" y="326.63">1</text>
<text x="492.15" y="326.63">1</text>
<text x="514.9" y="326.63">4</text>
<text x="560.05" y="326.63">5</text>
<text x="606.1" y="326.63">3</text>
<text x="651.55" y="326.63">3</text>
<text x="674.45" y="326.63">5</text>
<text x="697.6" y="326.63">6</text>
<text x="720.45" y="326.63">3</text>
<text x="765.7" y="326.63">2</text>
<text x="788.25" y="326.63">2</text>
<text x="833.5" y="326.63">4</text>
<text x="856.4" y="326.63" fill="#a9c2d8" stroke="#a9c2d8">1</text>
<text x="902.85" y="326.63">1</text>
<text x="37.4" y="351.8">10</text>
<text x="60.15" y="351.8">1</text>
<text x="82.7" y="351.8">3</text>
<text x="105.1" y="351.8">10</text>
<text x="150.15" y="351.8">3</text>
<text x="172.8" y="351.8">1</text>
<text x="195.4" y="351.8">2</text>
<text x="218.25" y="351.8">1</text>
<text x="241.2" y="351.8">1</text>
<text x="264" y="351.8">10</text>
<text x="287.05" y="351.8">4</text>
<text x="310.2" y="351.8">3</text>
<text x="333.1" y="351.8">1</text>
<text x="378.5" y="351.8">4</text>
<text x="400.9" y="351.8">4</text>
<text x="423.35" y="351.8">8</text>
<text x="446.15" y="351.8">4</text>
<text x="469.2" y="351.8">2</text>
<text x="492.15" y="351.8">2</text>
<text x="514.9" y="351.8">5</text>
<text x="537.45" y="351.8">1</text>
<text x="560.05" y="351.8">6</text>
<text x="606.1" y="351.8">4</text>
<text x="674.45" y="351.8">6</text>
<text x="697.6" y="351.8">7</text>
<text x="720.45" y="351.8">4</text>
<text x="743.1" y="351.8">1</text>
<text x="765.7" y="351.8">3</text>
<text x="788.25" y="351.8">3</text>
<text x="810.85" y="351.8">1</text>
<text x="833.5" y="351.8">5</text>
<text x="856.4" y="351.8" fill="#a9c2d8" stroke="#a9c2d8">2</text>
<text x="902.85" y="351.8">2</text>
<text x="37.4" y="376.96">11</text>
<text x="60.15" y="376.96">2</text>
<text x="82.7" y="376.96">4</text>
<text x="105.1" y="376.96">11</text>
<text x="127.55" y="376.96">1</text>
<text x="172.8" y="376.96">2</text>
<text x="195.4" y="376.96">3</text>
<text x="218.25" y="376.96">2</text>
<text x="241.2" y="376.96">2</text>
<text x="287.05" y="376.96">5</text>
<text x="310.2" y="376.96">4</text>
<text x="333.1" y="376.96">2</text>
<text x="378.5" y="376.96">5</text>
<text x="400.9" y="376.96">5</text>
<text x="423.35" y="376.96">9</text>
<text x="469.2" y="376.96">3</text>
<text x="537.45" y="376.96">2</text>
<text x="560.05" y="376.96">7</text>
<text x="583" y="376.96">1</text>
<text x="606.1" y="376.96">5</text>
<text x="628.95" y="376.96">1</text>
<text x="651.55" y="376.96">1</text>
<text x="674.45" y="376.96">7</text>
<text x="697.6" y="376.96">8</text>
<text x="743.1" y="376.96">2</text>
<text x="788.25" y="376.96">4</text>
<text x="810.85" y="376.96">2</text>
<text x="856.4" y="376.96" fill="#a9c2d8" stroke="#a9c2d8">3</text>
<text x="902.85" y="376.96">3</text>
<text x="37.4" y="402.13">12</text>
<text x="60.15" y="402.13">3</text>
<text x="82.7" y="402.13">5</text>
<text x="105.1" y="402.13">12</text>
<text x="127.55" y="402.13">2</text>
<text x="150.15" y="402.13">1</text>
<text x="195.4" y="402.13">4</text>
<text x="218.25" y="402.13">3</text>
<text x="241.2" y="402.13">3</text>
<text x="264" y="402.13">1</text>
<text x="287.05" y="402.13">6</text>
<text x="310.2" y="402.13">5</text>
<text x="333.1" y="402.13">3</text>
<text x="378.5" y="402.13">6</text>
<text x="400.9" y="402.13">6</text>
<text x="423.35" y="402.13">10</text>
<text x="446.15" y="402.13">1</text>
<text x="469.2" y="402.13">4</text>
<text x="492.15" y="402.13">1</text>
<text x="514.9" y="402.13">1</text>
<text x="583" y="402.13">2</text>
<text x="606.1" y="402.13">6</text>
<text x="628.95" y="402.13">2</text>
<text x="651.55" y="402.13">2</text>
<text x="674.45" y="402.13">8</text>
<text x="697.6" y="402.13">9</text>
<text x="720.45" y="402.13">1</text>
<text x="743.1" y="402.13">3</text>
<text x="765.7" y="402.13">1</text>
<text x="788.25" y="402.13">5</text>
<text x="810.85" y="402.13">3</text>
<text x="856.4" y="402.13" fill="#a9c2d8" stroke="#a9c2d8">4</text>
<text x="879.4" y="402.13">1</text>
<text x="902.85" y="402.13">4</text>
<text x="14.5" y="427.29">1</text>
<text x="37.4" y="427.29">13</text>
<text x="82.7" y="427.29">6</text>
<text x="105.1" y="427.29">13</text>
<text x="127.55" y="427.29">3</text>
<text x="172.8" y="427.29">1</text>
<text x="218.25" y="427.29">4</text>
<text x="241.2" y="427.29">4</text>
<text x="310.2" y="427.29">6</text>
<text x="355.9" y="427.29">1</text>
<text x="378.5" y="427.29">7</text>
<text x="400.9" y="427.29">7</text>
<text x="423.35" y="427.29">11</text>
<text x="469.2" y="427.29">5</text>
<text x="492.15" y="427.29">2</text>
<text x="514.9" y="427.29">2</text>
<text x="537.45" y="427.29">1</text>
<text x="560.05" y="427.29">1</text>
<text x="583" y="427.29">3</text>
<text x="606.1" y="427.29">7</text>
<text x="651.55" y="427.29">3</text>
<text x="674.45" y="427.29">9</text>
<text x="697.6" y="427.29">10</text>
<text x="720.45" y="427.29">2</text>
<text x="743.1" y="427.29">4</text>
<text x="788.25" y="427.29">6</text>
<text x="833.5" y="427.29">1</text>
<text x="856.4" y="427.29" fill="#a9c2d8" stroke="#a9c2d8">5</text>
<text x="902.85" y="427.29">5</text>
<text x="14.5" y="452.46">2</text>
<text x="37.4" y="452.46">14</text>
<text x="60.15" y="452.46">1</text>
<text x="82.7" y="452.46">7</text>
<text x="127.55" y="452.46">4</text>
<text x="150.15" y="452.46">1</text>
<text x="172.8" y="452.46">2</text>
<text x="195.4" y="452.46">1</text>
<text x="218.25" y="452.46">5</text>
<text x="241.2" y="452.46">5</text>
<text x="264" y="452.46">1</text>
<text x="287.05" y="452.46">1</text>
<text x="310.2" y="452.46">7</text>
<text x="333.1" y="452.46">1</text>
<text x="355.9" y="452.46">2</text>
<text x="400.9" y="452.46">8</text>
<text x="423.35" y="452.46">12</text>
<text x="446.15" y="452.46">1</text>
<text x="492.15" y="452.46">3</text>
<text x="514.9" y="452.46">3</text>
<text x="537.45" y="452.46">2</text>
<text x="583" y="452.46">4</text>
<text x="606.1" y="452.46">8</text>
<text x="651.55" y="452.46">4</text>
<text x="697.6" y="452.46">11</text>
<text x="743.1" y="452.46">5</text>
<text x="765.7" y="452.46">1</text>
<text x="788.25" y="452.46">7</text>
<text x="833.5" y="452.46">2</text>
<text x="856.4" y="452.46" fill="#a9c2d8" stroke="#a9c2d8">6</text>
<text x="879.4" y="452.46">1</text>
<text x="902.85" y="452.46">6</text>
<text x="14.5" y="477.62">3</text>
<text x="37.4" y="477.62">15</text>
<text x="60.15" y="477.62">2</text>
<text x="82.7" y="477.62">8</text>
<text x="105.1" y="477.62">1</text>
<text x="127.55" y="477.62">5</text>
<text x="150.15" y="477.62">2</text>
<text x="241.2" y="477.62">6</text>
<text x="287.05" y="477.62">2</text>
<text x="333.1" y="477.62">2</text>
<text x="355.9" y="477.62">3</text>
<text x="378.5" y="477.62">1</text>
<text x="400.9" y="477.62">9</text>
<text x="446.15" y="477.62">2</text>
<text x="492.15" y="477.62">4</text>
<text x="514.9" y="477.62">4</text>
<text x="560.05" y="477.62">1</text>
<text x="583" y="477.62">5</text>
<text x="606.1" y="477.62">9</text>
<text x="628.95" y="477.62">1</text>
<text x="697.6" y="477.62">12</text>
<text x="720.45" y="477.62">1</text>
<text x="743.1" y="477.62">6</text>
<text x="765.7" y="477.62">2</text>
<text x="788.25" y="477.62">8</text>
<text x="810.85" y="477.62">1</text>
<text x="833.5" y="477.62">3</text>
<text x="856.4" y="477.62" fill="#a9c2d8" stroke="#a9c2d8">7</text>
<text x="902.85" y="477.62">7</text>
<text x="14.5" y="502.79">4</text>
<text x="37.4" y="502.79">16</text>
<text x="60.15" y="502.79">3</text>
<text x="82.7" y="502.79">9</text>
<text x="105.1" y="502.79">2</text>
<text x="127.55" y="502.79">6</text>
<text x="150.15" y="502.79">3</text>
<text x="172.8" y="502.79">1</text>
<text x="195.4" y="502.79">1</text>
<text x="264" y="502.79">1</text>
<text x="287.05" y="502.79">3</text>
<text x="310.2" y="502.79">1</text>
<text x="355.9" y="502.79">4</text>
<text x="378.5" y="502.79">2</text>
<text x="400.9" y="502.79">10</text>
<text x="423.35" y="502.79">1</text>
<text x="446.15" y="502.79">3</text>
<text x="469.2" y="502.79">1</text>
<text x="560.05" y="502.79">2</text>
<text x="583" y="502.79">6</text>
<text x="606.1" y="502.79">10</text>
<text x="628.95" y="502.79">2</text>
<text x="651.55" y="502.79">1</text>
<text x="674.45" y="502.79">1</text>
<text x="697.6" y="502.79">13</text>
<text x="720.45" y="502.79">2</text>
<text x="743.1" y="502.79">7</text>
<text x="810.85" y="502.79">2</text>
<text x="856.4" y="502.79" fill="#a9c2d8" stroke="#a9c2d8">8</text>
<text x="879.4" y="502.79">1</text>
<text x="37.4" y="527.95">17</text>
<text x="82.7" y="527.95">10</text>
<text x="105.1" y="527.95">3</text>
<text x="127.55" y="527.95">7</text>
<text x="150.15" y="527.95">4</text>
<text x="172.8" y="527.95">2</text>
<text x="241.2" y="527.95">1</text>
<text x="264" y="527.95">2</text>
<text x="287.05" y="527.95">4</text>
<text x="310.2" y="527.95">2</text>
<text x="333.1" y="527.95">1</text>
<text x="355.9" y="527.95">5</text>
<text x="378.5" y="527.95">3</text>
<text x="400.9" y="527.95">11</text>
<text x="423.35" y="527.95">2</text>
<text x="469.2" y="527.95">2</text>
<text x="492.15" y="527.95">1</text>
<text x="514.9" y="527.95">1</text>
<text x="537.45" y="527.95">1</text>
<text x="583" y="527.95">7</text>
<text x="606.1" y="527.95">11</text>
<text x="628.95" y="527.95">3</text>
<text x="674.45" y="527.95">2</text>
<text x="697.6" y="527.95">14</text>
<text x="720.45" y="527.95">3</text>
<text x="743.1" y="527.95">8</text>
<text x="765.7" y="527.95">1</text>
<text x="833.5" y="527.95">1</text>
<text x="856.4" y="527.95" fill="#a9c2d8" stroke="#a9c2d8">9</text>
<text x="879.4" y="527.95">2</text>
<text x="60.15" y="553.12">1</text>
<text x="105.1" y="553.12">4</text>
<text x="127.55" y="553.12">8</text>
<text x="150.15" y="553.12">5</text>
<text x="195.4" y="553.12">1</text>
<text x="218.25" y="553.12">1</text>
<text x="241.2" y="553.12">2</text>
<text x="264" y="553.12">3</text>
<text x="310.2" y="553.12">3</text>
<text x="333.1" y="553.12">2</text>
<text x="355.9" y="553.12">6</text>
<text x="378.5" y="553.12">4</text>
<text x="400.9" y="553.12">12</text>
<text x="423.35" y="553.12">3</text>
<text x="492.15" y="553.12">2</text>
<text x="514.9" y="553.12">2</text>
<text x="537.45" y="553.12">2</text>
<text x="560.05" y="553.12">1</text>
<text x="583" y="553.12">8</text>
<text x="606.1" y="553.12">12</text>
<text x="628.95" y="553.12">4</text>
<text x="674.45" y="553.12">3</text>
<text x="697.6" y="553.12">15</text>
<text x="743.1" y="553.12">9</text>
<text x="765.7" y="553.12">2</text>
<text x="810.85" y="553.12">1</text>
<text x="833.5" y="553.12">2</text>
<text x="856.4" y="553.12" fill="#a9c2d8" stroke="#a9c2d8">10</text>
<text x="879.4" y="553.12">3</text>
<text x="902.85" y="553.12">1</text>
<text x="37.4" y="578.28">1</text>
<text x="82.7" y="578.28">1</text>
<text x="150.15" y="578.28">6</text>
<text x="172.8" y="578.28">1</text>
<text x="218.25" y="578.28">2</text>
<text x="264" y="578.28">4</text>
<text x="287.05" y="578.28">1</text>
<text x="310.2" y="578.28">4</text>
<text x="333.1" y="578.28">3</text>
<text x="355.9" y="578.28">7</text>
<text x="423.35" y="578.28">4</text>
<text x="469.2" y="578.28" fill="#a9c2d8" stroke="#a9c2d8">1</text>
<text x="514.9" y="578.28">3</text>
<text x="606.1" y="578.28">13</text>
<text x="628.95" y="578.28">5</text>
<text x="651.55" y="578.28">1</text>
<text x="674.45" y="578.28">4</text>
<text x="697.6" y="578.28">16</text>
<text x="743.1" y="578.28">10</text>
<text x="788.25" y="578.28">1</text>
<text x="810.85" y="578.28">2</text>
<text x="833.5" y="578.28">3</text>
<text x="856.4" y="578.28" fill="#a9c2d8" stroke="#a9c2d8">11</text>
<text x="879.4" y="578.28">4</text>
<text x="902.85" y="578.28">2</text>
<text x="37.4" y="603.45">2</text>
<text x="60.15" y="603.45">1</text>
<text x="82.7" y="603.45">2</text>
<text x="105.1" y="603.45">1</text>
<text x="127.55" y="603.45">1</text>
<text x="172.8" y="603.45">2</text>
<text x="195.4" y="603.45">1</text>
<text x="218.25" y="603.45">3</text>
<text x="241.2" y="603.45">1</text>
<text x="264" y="603.45">5</text>
<text x="287.05" y="603.45">2</text>
<text x="310.2" y="603.45">5</text>
<text x="333.1" y="603.45">4</text>
<text x="378.5" y="603.45">1</text>
<text x="400.9" y="603.45">1</text>
<text x="423.35" y="603.45">5</text>
<text x="446.15" y="603.45">1</text>
<text x="469.2" y="603.45" fill="#a9c2d8" stroke="#a9c2d8">2</text>
<text x="514.9" y="603.45">4</text>
<text x="537.45" y="603.45">1</text>
<text x="560.05" y="603.45">1</text>
<text x="583" y="603.45">1</text>
<text x="628.95" y="603.45">6</text>
<text x="651.55" y="603.45">2</text>
<text x="720.45" y="603.45">1</text>
<text x="743.1" y="603.45">11</text>
<text x="765.7" y="603.45">1</text>
<text x="788.25" y="603.45">2</text>
<text x="810.85" y="603.45">3</text>
<text x="856.4" y="603.45" fill="#a9c2d8" stroke="#a9c2d8">12</text>
<text x="879.4" y="603.45">5</text>
<text x="902.85" y="603.45">3</text>
<text x="14.5" y="628.61">1</text>
<text x="37.4" y="628.61">3</text>
<text x="60.15" y="628.61">2</text>
<text x="82.7" y="628.61">3</text>
<text x="127.55" y="628.61">2</text>
<text x="150.15" y="628.61">1</text>
<text x="172.8" y="628.61">3</text>
<text x="218.25" y="628.61">4</text>
<text x="264" y="628.61">6</text>
<text x="287.05" y="628.61">3</text>
<text x="310.2" y="628.61">6</text>
<text x="333.1" y="628.61">5</text>
<text x="378.5" y="628.61">2</text>
<text x="400.9" y="628.61">2</text>
<text x="446.15" y="628.61">2</text>
<text x="469.2" y="628.61" fill="#a9c2d8" stroke="#a9c2d8">3</text>
<text x="492.15" y="628.61">1</text>
<text x="514.9" y="628.61">5</text>
<text x="537.45" y="628.61">2</text>
<text x="560.05" y="628.61">2</text>
<text x="606.1" y="628.61">1</text>
<text x="628.95" y="628.61">7</text>
<text x="674.45" y="628.61">1</text>
<text x="697.6" y="628.61">1</text>
<text x="720.45" y="628.61">2</text>
<text x="743.1" y="628.61">12</text>
<text x="788.25" y="628.61">3</text>
<text x="810.85" y="628.61">4</text>
<text x="833.5" y="628.61" fill="#a9c2d8" stroke="#a9c2d8">1</text>
<text x="856.4" y="628.61" fill="#a9c2d8" stroke="#a9c2d8">13</text>
<text x="879.4" y="628.61">6</text>
<text x="37.4" y="653.78">4</text>
<text x="60.15" y="653.78">3</text>
<text x="105.1" y="653.78" fill="#a9c2d8" stroke="#a9c2d8">1</text>
<text x="127.55" y="653.78">3</text>
<text x="150.15" y="653.78">2</text>
<text x="172.8" y="653.78">4</text>
<text x="195.4" y="653.78">1</text>
<text x="218.25" y="653.78">5</text>
<text x="241.2" y="653.78">1</text>
<text x="264" y="653.78">7</text>
<text x="287.05" y="653.78">4</text>
<text x="310.2" y="653.78">7</text>
<text x="333.1" y="653.78">6</text>
<text x="355.9" y="653.78">1</text>
<text x="378.5" y="653.78">3</text>
<text x="400.9" y="653.78">3</text>
<text x="423.35" y="653.78" fill="#a9c2d8" stroke="#a9c2d8">1</text>
<text x="446.15" y="653.78">3</text>
<text x="469.2" y="653.78" fill="#a9c2d8" stroke="#a9c2d8">4</text>
<text x="492.15" y="653.78">2</text>
<text x="537.45" y="653.78">3</text>
<text x="560.05" y="653.78">3</text>
<text x="583" y="653.78">1</text>
<text x="651.55" y="653.78">1</text>
<text x="674.45" y="653.78">2</text>
<text x="697.6" y="653.78">2</text>
<text x="720.45" y="653.78">3</text>
<text x="743.1" y="653.78">13</text>
<text x="765.7" y="653.78">1</text>
<text x="788.25" y="653.78">4</text>
<text x="810.85" y="653.78">5</text>
<text x="833.5" y="653.78" fill="#a9c2d8" stroke="#a9c2d8">2</text>
<text x="856.4" y="653.78" fill="#a9c2d8" stroke="#a9c2d8">14</text>
<text x="879.4" y="653.78">7</text>
<text x="902.85" y="653.78">1</text>
<text x="14.5" y="678.94">1</text>
<text x="105.1" y="678.94" fill="#a9c2d8" stroke="#a9c2d8">2</text>
<text x="127.55" y="678.94">4</text>
<text x="150.15" y="678.94">3</text>
<text x="172.8" y="678.94">5</text>
<text x="195.4" y="678.94">2</text>
<text x="218.25" y="678.94">6</text>
<text x="264" y="678.94">8</text>
<text x="287.05" y="678.94">5</text>
<text x="310.2" y="678.94">8</text>
<text x="355.9" y="678.94">2</text>
<text x="378.5" y="678.94">4</text>
<text x="400.9" y="678.94">4</text>
<text x="423.35" y="678.94" fill="#a9c2d8" stroke="#a9c2d8">2</text>
<text x="469.2" y="678.94" fill="#a9c2d8" stroke="#a9c2d8">5</text>
<text x="492.15" y="678.94">3</text>
<text x="514.9" y="678.94">1</text>
<text x="537.45" y="678.94">4</text>
<text x="583" y="678.94">2</text>
<text x="606.1" y="678.94">1</text>
<text x="628.95" y="678.94" fill="#a9c2d8" stroke="#a9c2d8">1</text>
<text x="651.55" y="678.94">2</text>
<text x="674.45" y="678.94">3</text>
<text x="720.45" y="678.94">4</text>
<text x="743.1" y="678.94">14</text>
<text x="765.7" y="678.94">2</text>
<text x="788.25" y="678.94">5</text>
<text x="810.85" y="678.94">6</text>
<text x="833.5" y="678.94" fill="#a9c2d8" stroke="#a9c2d8">3</text>
<text x="856.4" y="678.94" fill="#a9c2d8" stroke="#a9c2d8">15</text>
<text x="14.5" y="704.11">2</text>
<text x="37.4" y="704.11">1</text>
<text x="60.15" y="704.11">1</text>
<text x="82.7" y="704.11" fill="#a9c2d8" stroke="#a9c2d8">1</text>
<text x="105.1" y="704.11" fill="#a9c2d8" stroke="#a9c2d8">3</text>
<text x="127.55" y="704.11">5</text>
<text x="150.15" y="704.11">4</text>
<text x="172.8" y="704.11">6</text>
<text x="218.25" y="704.11">7</text>
<text x="241.2" y="704.11">1</text>
<text x="264" y="704.11">9</text>
<text x="287.05" y="704.11">6</text>
<text x="355.9" y="704.11">3</text>
<text x="378.5" y="704.11">5</text>
<text x="423.35" y="704.11" fill="#a9c2d8" stroke="#a9c2d8">3</text>
<text x="446.15" y="704.11">1</text>
<text x="469.2" y="704.11" fill="#a9c2d8" stroke="#a9c2d8">6</text>
<text x="492.15" y="704.11">4</text>
<text x="560.05" y="704.11">1</text>
<text x="583" y="704.11">3</text>
<text x="628.95" y="704.11" fill="#a9c2d8" stroke="#a9c2d8">2</text>
<text x="651.55" y="704.11">3</text>
<text x="674.45" y="704.11">4</text>
<text x="697.6" y="704.11">1</text>
<text x="720.45" y="704.11">5</text>
<text x="743.1" y="704.11">15</text>
<text x="765.7" y="704.11">3</text>
<text x="810.85" y="704.11">7</text>
<text x="833.5" y="704.11" fill="#a9c2d8" stroke="#a9c2d8">4</text>
<text x="856.4" y="704.11" fill="#a9c2d8" stroke="#a9c2d8">16</text>
<text x="902.85" y="704.11">1</text>
<text x="14.5" y="729.27">3</text>
<text x="37.4" y="729.27">2</text>
<text x="60.15" y="729.27">2</text>
<text x="82.7" y="729.27" fill="#a9c2d8" stroke="#a9c2d8">2</text>
<text x="105.1" y="729.27" fill="#a9c2d8" stroke="#a9c2d8">4</text>
<text x="127.55" y="729.27">6</text>
<text x="150.15" y="729.27">5</text>
<text x="195.4" y="729.27">1</text>
<text x="264" y="729.27">10</text>
<text x="287.05" y="729.27">7</text>
<text x="310.2" y="729.27" fill="#a9c2d8" stroke="#a9c2d8">1</text>
<text x="333.1" y="729.27" fill="#a9c2d8" stroke="#a9c2d8">1</text>
<text x="378.5" y="729.27">6</text>
<text x="423.35" y="729.27" fill="#a9c2d8" stroke="#a9c2d8">4</text>
<text x="446.15" y="729.27">2</text>
<text x="469.2" y="729.27" fill="#a9c2d8" stroke="#a9c2d8">7</text>
<text x="492.15" y="729.27">5</text>
<text x="514.9" y="729.27">1</text>
<text x="537.45" y="729.27" fill="#a9c2d8" stroke="#a9c2d8">1</text>
<text x="583" y="729.27">4</text>
<text x="628.95" y="729.27" fill="#a9c2d8" stroke="#a9c2d8">3</text>
<text x="674.45" y="729.27">5</text>
<text x="720.45" y="729.27">6</text>
<text x="810.85" y="729.27">8</text>
<text x="833.5" y="729.27" fill="#a9c2d8" stroke="#a9c2d8">5</text>
<text x="856.4" y="729.27" fill="#a9c2d8" stroke="#a9c2d8">17</text>
<text x="902.85" y="729.27">2</text>
<text x="14.5" y="754.44">4</text>
<text x="37.4" y="754.44">3</text>
<text x="82.7" y="754.44" fill="#a9c2d8" stroke="#a9c2d8">3</text>
<text x="105.1" y="754.44" fill="#a9c2d8" stroke="#a9c2d8">5</text>
<text x="127.55" y="754.44">7</text>
<text x="150.15" y="754.44">6</text>
<text x="172.8" y="754.44">1</text>
<text x="195.4" y="754.44">2</text>
<text x="241.2" y="754.44">1</text>
<text x="287.05" y="754.44">8</text>
<text x="310.2" y="754.44" fill="#a9c2d8" stroke="#a9c2d8">2</text>
<text x="333.1" y="754.44" fill="#a9c2d8" stroke="#a9c2d8">2</text>
<text x="355.9" y="754.44" fill="#a9c2d8" stroke="#a9c2d8">1</text>
<text x="400.9" y="754.44" fill="#a9c2d8" stroke="#a9c2d8">1</text>
<text x="423.35" y="754.44" fill="#a9c2d8" stroke="#a9c2d8">5</text>
<text x="469.2" y="754.44" fill="#a9c2d8" stroke="#a9c2d8">8</text>
<text x="492.15" y="754.44">6</text>
<text x="514.9" y="754.44">2</text>
<text x="537.45" y="754.44" fill="#a9c2d8" stroke="#a9c2d8">2</text>
<text x="560.05" y="754.44" fill="#a9c2d8" stroke="#a9c2d8">1</text>
<text x="583" y="754.44">5</text>
<text x="606.1" y="754.44" fill="#a9c2d8" stroke="#a9c2d8">1</text>
<text x="628.95" y="754.44" fill="#a9c2d8" stroke="#a9c2d8">4</text>
<text x="651.55" y="754.44">1</text>
<text x="674.45" y="754.44">6</text>
<text x="697.6" y="754.44">1</text>
<text x="743.1" y="754.44" fill="#a9c2d8" stroke="#a9c2d8">1</text>
<text x="765.7" y="754.44">1</text>
<text x="788.25" y="754.44">1</text>
<text x="810.85" y="754.44">9</text>
<text x="833.5" y="754.44" fill="#a9c2d8" stroke="#a9c2d8">6</text>
<text x="856.4" y="754.44" fill="#a9c2d8" stroke="#a9c2d8">18</text>
<text x="14.5" y="779.6">5</text>
<text x="60.15" y="779.6" fill="#a9c2d8" stroke="#a9c2d8">1</text>
<text x="82.7" y="779.6" fill="#a9c2d8" stroke="#a9c2d8">4</text>
<text x="105.1" y="779.6" fill="#a9c2d8" stroke="#a9c2d8">6</text>
<text x="127.55" y="779.6">8</text>
<text x="172.8" y="779.6">2</text>
<text x="218.25" y="779.6" fill="#a9c2d8" stroke="#a9c2d8">1</text>
<text x="264" y="779.6" fill="#a9c2d8" stroke="#a9c2d8">1</text>
<text x="310.2" y="779.6" fill="#a9c2d8" stroke="#a9c2d8">3</text>
<text x="333.1" y="779.6" fill="#a9c2d8" stroke="#a9c2d8">3</text>
<text x="355.9" y="779.6" fill="#a9c2d8" stroke="#a9c2d8">2</text>
<text x="378.5" y="779.6">1</text>
<text x="400.9" y="779.6" fill="#a9c2d8" stroke="#a9c2d8">2</text>
<text x="423.35" y="779.6" fill="#a9c2d8" stroke="#a9c2d8">6</text>
<text x="446.15" y="779.6" fill="#a9c2d8" stroke="#a9c2d8">1</text>
<text x="469.2" y="779.6" fill="#a9c2d8" stroke="#a9c2d8">9</text>
<text x="514.9" y="779.6">3</text>
<text x="537.45" y="779.6" fill="#a9c2d8" stroke="#a9c2d8">3</text>
<text x="560.05" y="779.6" fill="#a9c2d8" stroke="#a9c2d8">2</text>
<text x="606.1" y="779.6" fill="#a9c2d8" stroke="#a9c2d8">2</text>
<text x="628.95" y="779.6" fill="#a9c2d8" stroke="#a9c2d8">5</text>
<text x="674.45" y="779.6">7</text>
<text x="720.45" y="779.6" fill="#a9c2d8" stroke="#a9c2d8">1</text>
<text x="743.1" y="779.6" fill="#a9c2d8" stroke="#a9c2d8">2</text>
<text x="788.25" y="779.6">2</text>
<text x="810.85" y="779.6">10</text>
<text x="833.5" y="779.6" fill="#a9c2d8" stroke="#a9c2d8">7</text>
<text x="856.4" y="779.6" fill="#a9c2d8" stroke="#a9c2d8">19</text>
<text x="879.4" y="779.6" fill="#a9c2d8" stroke="#a9c2d8">1</text>
<text x="37.4" y="804.77" fill="#a9c2d8" stroke="#a9c2d8">1</text>
<text x="60.15" y="804.77" fill="#a9c2d8" stroke="#a9c2d8">2</text>
<text x="82.7" y="804.77" fill="#a9c2d8" stroke="#a9c2d8">5</text>
<text x="105.1" y="804.77" fill="#a9c2d8" stroke="#a9c2d8">7</text>
<text x="195.4" y="804.77" fill="#a9c2d8" stroke="#a9c2d8">1</text>
<text x="218.25" y="804.77" fill="#a9c2d8" stroke="#a9c2d8">2</text>
<text x="264" y="804.77" fill="#a9c2d8" stroke="#a9c2d8">2</text>
<text x="287.05" y="804.77" fill="#a9c2d8" stroke="#a9c2d8">1</text>
<text x="310.2" y="804.77" fill="#a9c2d8" stroke="#a9c2d8">4</text>
<text x="333.1" y="804.77" fill="#a9c2d8" stroke="#a9c2d8">4</text>
<text x="355.9" y="804.77" fill="#a9c2d8" stroke="#a9c2d8">3</text>
<text x="400.9" y="804.77" fill="#a9c2d8" stroke="#a9c2d8">3</text>
<text x="423.35" y="804.77" fill="#a9c2d8" stroke="#a9c2d8">7</text>
<text x="446.15" y="804.77" fill="#a9c2d8" stroke="#a9c2d8">2</text>
<text x="469.2" y="804.77" fill="#a9c2d8" stroke="#a9c2d8">10</text>
<text x="492.15" y="804.77" fill="#a9c2d8" stroke="#a9c2d8">1</text>
<text x="537.45" y="804.77" fill="#a9c2d8" stroke="#a9c2d8">4</text>
<text x="560.05" y="804.77" fill="#a9c2d8" stroke="#a9c2d8">3</text>
<text x="583" y="804.77" fill="#a9c2d8" stroke="#a9c2d8">1</text>
<text x="606.1" y="804.77" fill="#a9c2d8" stroke="#a9c2d8">3</text>
<text x="628.95" y="804.77" fill="#a9c2d8" stroke="#a9c2d8">6</text>
<text x="697.6" y="804.77" fill="#a9c2d8" stroke="#a9c2d8">1</text>
<text x="720.45" y="804.77" fill="#a9c2d8" stroke="#a9c2d8">2</text>
<text x="743.1" y="804.77" fill="#a9c2d8" stroke="#a9c2d8">3</text>
<text x="765.7" y="804.77" fill="#a9c2d8" stroke="#a9c2d8">1</text>
<text x="833.5" y="804.77" fill="#a9c2d8" stroke="#a9c2d8">8</text>
<text x="856.4" y="804.77" fill="#a9c2d8" stroke="#a9c2d8">20</text>
<text x="879.4" y="804.77" fill="#a9c2d8" stroke="#a9c2d8">2</text>
<text x="902.85" y="804.77" fill="#a9c2d8" stroke="#a9c2d8">1</text>
</g>
<g font-size="13.8" font-weight="bold" text-anchor="middle" fill="#ffffff" stroke="#ffffff" stroke-width="0.2">
<circle cx="82.3" cy="70.08" r="9.7" fill="url(#bg)" stroke="none"/>
<text x="82.3" y="74.78">44</text>
<circle cx="127.15" cy="70.08" r="9.7" fill="url(#bg)" stroke="none"/>
<text x="127.15" y="74.78">46</text>
<circle cx="217.85" cy="70.08" r="9.7" fill="url(#bg)" stroke="none"/>
<text x="217.85" y="74.78">50</text>
<circle cx="309.8" cy="70.08" r="9.7" fill="url(#bg)" stroke="none"/>
<text x="309.8" y="74.78">54</text>
<circle cx="332.7" cy="70.08" r="9.7" fill="url(#bg)" stroke="none"/>
<text x="332.7" y="74.78">55</text>
<circle cx="422.95" cy="70.08" r="9.7" fill="url(#bg)" stroke="none"/>
<text x="422.95" y="74.78">59</text>
<circle cx="468.8" cy="70.08" r="9.7" fill="url(#bg)" stroke="none"/>
<text x="468.8" y="74.78">61</text>
<circle cx="651.15" cy="70.08" r="9.7" fill="url(#bg)" stroke="none"/>
<text x="651.15" y="74.78">69</text>
<circle cx="674.05" cy="70.08" r="9.7" fill="url(#bg)" stroke="none"/>
<text x="674.05" y="74.78">70</text>
<circle cx="742.7" cy="70.08" r="9.7" fill="url(#bg)" stroke="none"/>
<text x="742.7" y="74.78">73</text>
<circle cx="37" cy="95.25" r="9.7" fill="url(#bg)" stroke="none"/>
<text x="37" y="99.95">42</text>
<circle cx="59.75" cy="95.25" r="9.7" fill="url(#bg)" stroke="none"/>
<text x="59.75" y="99.95">43</text>
<circle cx="104.7" cy="95.25" r="9.7" fill="url(#bg)" stroke="none"/>
<text x="104.7" y="99.95">45</text>
<circle cx="149.75" cy="95.25" r="9.7" fill="url(#bg)" stroke="none"/>
<text x="149.75" y="99.95">47</text>
<circle cx="263.6" cy="95.25" r="9.7" fill="url(#bg)" stroke="none"/>
<text x="263.6" y="99.95">52</text>
<circle cx="355.5" cy="95.25" r="9.7" fill="url(#bg)" stroke="none"/>
<text x="355.5" y="99.95">56</text>
<circle cx="378.1" cy="95.25" r="9.7" fill="url(#bg)" stroke="none"/>
<text x="378.1" y="99.95">57</text>
<circle cx="491.75" cy="95.25" r="9.7" fill="url(#bg)" stroke="none"/>
<text x="491.75" y="99.95">62</text>
<circle cx="514.5" cy="95.25" r="9.7" fill="url(#bg)" stroke="none"/>
<text x="514.5" y="99.95">63</text>
<circle cx="720.05" cy="95.25" r="9.7" fill="url(#bg)" stroke="none"/>
<text x="720.05" y="99.95">72</text>
<circle cx="810.45" cy="95.25" r="9.7" fill="url(#bg)" stroke="none"/>
<text x="810.45" y="99.95">76</text>
<circle cx="856" cy="95.25" r="9.7" fill="url(#bg)" stroke="none"/>
<text x="856" y="99.95">78</text>
<circle cx="902.45" cy="95.25" r="9.7" fill="url(#bg)" stroke="none"/>
<text x="902.45" y="99.95">80</text>
<circle cx="59.75" cy="120.41" r="9.7" fill="url(#bg)" stroke="none"/>
<text x="59.75" y="125.11">43</text>
<circle cx="82.3" cy="120.41" r="9.7" fill="url(#bg)" stroke="none"/>
<text x="82.3" y="125.11">44</text>
<circle cx="286.65" cy="120.41" r="9.7" fill="url(#bg)" stroke="none"/>
<text x="286.65" y="125.11">53</text>
<circle cx="332.7" cy="120.41" r="9.7" fill="url(#bg)" stroke="none"/>
<text x="332.7" y="125.11">55</text>
<circle cx="422.95" cy="120.41" r="9.7" fill="url(#bg)" stroke="none"/>
<text x="422.95" y="125.11">59</text>
<circle cx="491.75" cy="120.41" r="9.7" fill="url(#bg)" stroke="none"/>
<text x="491.75" y="125.11">62</text>
<circle cx="559.65" cy="120.41" r="9.7" fill="url(#bg)" stroke="none"/>
<text x="559.65" y="125.11">65</text>
<circle cx="674.05" cy="120.41" r="9.7" fill="url(#bg)" stroke="none"/>
<text x="674.05" y="125.11">70</text>
<circle cx="172.4" cy="145.58" r="9.7" fill="url(#bg)" stroke="none"/>
<text x="172.4" y="150.28">48</text>
<circle cx="286.65" cy="145.58" r="9.7" fill="url(#bg)" stroke="none"/>
<text x="286.65" y="150.28">53</text>
<circle cx="309.8" cy="145.58" r="9.7" fill="url(#bg)" stroke="none"/>
<text x="309.8" y="150.28">54</text>
<circle cx="332.7" cy="145.58" r="9.7" fill="url(#bg)" stroke="none"/>
<text x="332.7" y="150.28">55</text>
<circle cx="400.5" cy="145.58" r="9.7" fill="url(#bg)" stroke="none"/>
<text x="400.5" y="150.28">58</text>
<circle cx="422.95" cy="145.58" r="9.7" fill="url(#bg)" stroke="none"/>
<text x="422.95" y="150.28">59</text>
<circle cx="810.45" cy="145.58" r="9.7" fill="url(#bg)" stroke="none"/>
<text x="810.45" y="150.28">76</text>
<circle cx="59.75" cy="170.74" r="9.7" fill="url(#bg)" stroke="none"/>
<text x="59.75" y="175.44">43</text>
<circle cx="82.3" cy="170.74" r="9.7" fill="url(#bg)" stroke="none"/>
<text x="82.3" y="175.44">44</text>
<circle cx="172.4" cy="170.74" r="9.7" fill="url(#bg)" stroke="none"/>
<text x="172.4" y="175.44">48</text>
<circle cx="217.85" cy="170.74" r="9.7" fill="url(#bg)" stroke="none"/>
<text x="217.85" y="175.44">50</text>
<circle cx="491.75" cy="170.74" r="9.7" fill="url(#bg)" stroke="none"/>
<text x="491.75" y="175.44">62</text>
<circle cx="559.65" cy="170.74" r="9.7" fill="url(#bg)" stroke="none"/>
<text x="559.65" y="175.44">65</text>
<circle cx="582.6" cy="170.74" r="9.7" fill="url(#bg)" stroke="none"/>
<text x="582.6" y="175.44">66</text>
<circle cx="628.55" cy="170.74" r="9.7" fill="url(#bg)" stroke="none"/>
<text x="628.55" y="175.44">68</text>
<circle cx="697.2" cy="170.74" r="9.7" fill="url(#bg)" stroke="none"/>
<text x="697.2" y="175.44">71</text>
<circle cx="720.05" cy="170.74" r="9.7" fill="url(#bg)" stroke="none"/>
<text x="720.05" y="175.44">72</text>
<circle cx="902.45" cy="170.74" r="9.7" fill="url(#bg)" stroke="none"/>
<text x="902.45" y="175.44">80</text>
<circle cx="149.75" cy="195.91" r="9.7" fill="url(#bg)" stroke="none"/>
<text x="149.75" y="200.61">47</text>
<circle cx="172.4" cy="195.91" r="9.7" fill="url(#bg)" stroke="none"/>
<text x="172.4" y="200.61">48</text>
<circle cx="286.65" cy="195.91" r="9.7" fill="url(#bg)" stroke="none"/>
<text x="286.65" y="200.61">53</text>
<circle cx="378.1" cy="195.91" r="9.7" fill="url(#bg)" stroke="none"/>
<text x="378.1" y="200.61">57</text>
<circle cx="491.75" cy="195.91" r="9.7" fill="url(#bg)" stroke="none"/>
<text x="491.75" y="200.61">62</text>
<circle cx="537.05" cy="195.91" r="9.7" fill="url(#bg)" stroke="none"/>
<text x="537.05" y="200.61">64</text>
<circle cx="559.65" cy="195.91" r="9.7" fill="url(#bg)" stroke="none"/>
<text x="559.65" y="200.61">65</text>
<circle cx="674.05" cy="195.91" r="9.7" fill="url(#bg)" stroke="none"/>
<text x="674.05" y="200.61">70</text>
<circle cx="720.05" cy="195.91" r="9.7" fill="url(#bg)" stroke="none"/>
<text x="720.05" y="200.61">72</text>
<circle cx="833.1" cy="195.91" r="9.7" fill="url(#bg)" stroke="none"/>
<text x="833.1" y="200.61">77</text>
<circle cx="902.45" cy="195.91" r="9.7" fill="url(#bg)" stroke="none"/>
<text x="902.45" y="200.61">80</text>
<circle cx="59.75" cy="221.07" r="9.7" fill="url(#bg)" stroke="none"/>
<text x="59.75" y="225.77">43</text>
<circle cx="127.15" cy="221.07" r="9.7" fill="url(#bg)" stroke="none"/>
<text x="127.15" y="225.77">46</text>
<circle cx="195" cy="221.07" r="9.7" fill="url(#bg)" stroke="none"/>
<text x="195" y="225.77">49</text>
<circle cx="217.85" cy="221.07" r="9.7" fill="url(#bg)" stroke="none"/>
<text x="217.85" y="225.77">50</text>
<circle cx="514.5" cy="221.07" r="9.7" fill="url(#bg)" stroke="none"/>
<text x="514.5" y="225.77">63</text>
<circle cx="537.05" cy="221.07" r="9.7" fill="url(#bg)" stroke="none"/>
<text x="537.05" y="225.77">64</text>
<circle cx="582.6" cy="221.07" r="9.7" fill="url(#bg)" stroke="none"/>
<text x="582.6" y="225.77">66</text>
<circle cx="605.7" cy="221.07" r="9.7" fill="url(#bg)" stroke="none"/>
<text x="605.7" y="225.77">67</text>
<circle cx="765.3" cy="221.07" r="9.7" fill="url(#bg)" stroke="none"/>
<text x="765.3" y="225.77">74</text>
<circle cx="787.85" cy="221.07" r="9.7" fill="url(#bg)" stroke="none"/>
<text x="787.85" y="225.77">75</text>
<circle cx="810.45" cy="221.07" r="9.7" fill="url(#bg)" stroke="none"/>
<text x="810.45" y="225.77">76</text>
<circle cx="833.1" cy="221.07" r="9.7" fill="url(#bg)" stroke="none"/>
<text x="833.1" y="225.77">77</text>
<circle cx="14.1" cy="246.24" r="9.7" fill="url(#bg)" stroke="none"/>
<text x="14.1" y="250.94">41</text>
<circle cx="195" cy="246.24" r="9.7" fill="url(#bg)" stroke="none"/>
<text x="195" y="250.94">49</text>
<circle cx="286.65" cy="246.24" r="9.7" fill="url(#bg)" stroke="none"/>
<text x="286.65" y="250.94">53</text>
<circle cx="378.1" cy="246.24" r="9.7" fill="url(#bg)" stroke="none"/>
<text x="378.1" y="250.94">57</text>
<circle cx="400.5" cy="246.24" r="9.7" fill="url(#bg)" stroke="none"/>
<text x="400.5" y="250.94">58</text>
<circle cx="445.75" cy="246.24" r="9.7" fill="url(#bg)" stroke="none"/>
<text x="445.75" y="250.94">60</text>
<circle cx="605.7" cy="246.24" r="9.7" fill="url(#bg)" stroke="none"/>
<text x="605.7" y="250.94">67</text>
<circle cx="651.15" cy="246.24" r="9.7" fill="url(#bg)" stroke="none"/>
<text x="651.15" y="250.94">69</text>
<circle cx="720.05" cy="246.24" r="9.7" fill="url(#bg)" stroke="none"/>
<text x="720.05" y="250.94">72</text>
<circle cx="82.3" cy="271.4" r="9.7" fill="url(#bg)" stroke="none"/>
<text x="82.3" y="276.1">44</text>
<circle cx="127.15" cy="271.4" r="9.7" fill="url(#bg)" stroke="none"/>
<text x="127.15" y="276.1">46</text>
<circle cx="149.75" cy="271.4" r="9.7" fill="url(#bg)" stroke="none"/>
<text x="149.75" y="276.1">47</text>
<circle cx="309.8" cy="271.4" r="9.7" fill="url(#bg)" stroke="none"/>
<text x="309.8" y="276.1">54</text>
<circle cx="628.55" cy="271.4" r="9.7" fill="url(#bg)" stroke="none"/>
<text x="628.55" y="276.1">68</text>
<circle cx="742.7" cy="271.4" r="9.7" fill="url(#bg)" stroke="none"/>
<text x="742.7" y="276.1">73</text>
<circle cx="765.3" cy="271.4" r="9.7" fill="url(#bg)" stroke="none"/>
<text x="765.3" y="276.1">74</text>
<circle cx="787.85" cy="271.4" r="9.7" fill="url(#bg)" stroke="none"/>
<text x="787.85" y="276.1">75</text>
<circle cx="902.45" cy="271.4" r="9.7" fill="url(#bg)" stroke="none"/>
<text x="902.45" y="276.1">80</text>
<circle cx="59.75" cy="296.57" r="9.7" fill="url(#bg)" stroke="none"/>
<text x="59.75" y="301.27">43</text>
<circle cx="195" cy="296.57" r="9.7" fill="url(#bg)" stroke="none"/>
<text x="195" y="301.27">49</text>
<circle cx="217.85" cy="296.57" r="9.7" fill="url(#bg)" stroke="none"/>
<text x="217.85" y="301.27">50</text>
<circle cx="240.8" cy="296.57" r="9.7" fill="url(#bg)" stroke="none"/>
<text x="240.8" y="301.27">51</text>
<circle cx="468.8" cy="296.57" r="9.7" fill="url(#bg)" stroke="none"/>
<text x="468.8" y="301.27">61</text>
<circle cx="491.75" cy="296.57" r="9.7" fill="url(#bg)" stroke="none"/>
<text x="491.75" y="301.27">62</text>
<circle cx="537.05" cy="296.57" r="9.7" fill="url(#bg)" stroke="none"/>
<text x="537.05" y="301.27">64</text>
<circle cx="628.55" cy="296.57" r="9.7" fill="url(#bg)" stroke="none"/>
<text x="628.55" y="301.27">68</text>
<circle cx="742.7" cy="296.57" r="9.7" fill="url(#bg)" stroke="none"/>
<text x="742.7" y="301.27">73</text>
<circle cx="856" cy="296.57" r="9.7" fill="url(#bg)" stroke="none"/>
<text x="856" y="301.27">78</text>
<circle cx="902.45" cy="296.57" r="9.7" fill="url(#bg)" stroke="none"/>
<text x="902.45" y="301.27">80</text>
<circle cx="14.1" cy="321.73" r="9.7" fill="url(#bg)" stroke="none"/>
<text x="14.1" y="326.43">41</text>
<circle cx="59.75" cy="321.73" r="9.7" fill="url(#bg)" stroke="none"/>
<text x="59.75" y="326.43">43</text>
<circle cx="172.4" cy="321.73" r="9.7" fill="url(#bg)" stroke="none"/>
<text x="172.4" y="326.43">48</text>
<circle cx="217.85" cy="321.73" r="9.7" fill="url(#bg)" stroke="none"/>
<text x="217.85" y="326.43">50</text>
<circle cx="240.8" cy="321.73" r="9.7" fill="url(#bg)" stroke="none"/>
<text x="240.8" y="326.43">51</text>
<circle cx="332.7" cy="321.73" r="9.7" fill="url(#bg)" stroke="none"/>
<text x="332.7" y="326.43">55</text>
<circle cx="537.05" cy="321.73" r="9.7" fill="url(#bg)" stroke="none"/>
<text x="537.05" y="326.43">64</text>
<circle cx="582.6" cy="321.73" r="9.7" fill="url(#bg)" stroke="none"/>
<text x="582.6" y="326.43">66</text>
<circle cx="628.55" cy="321.73" r="9.7" fill="url(#bg)" stroke="none"/>
<text x="628.55" y="326.43">68</text>
<circle cx="742.7" cy="321.73" r="9.7" fill="url(#bg)" stroke="none"/>
<text x="742.7" y="326.43">73</text>
<circle cx="810.45" cy="321.73" r="9.7" fill="url(#bg)" stroke="none"/>
<text x="810.45" y="326.43">76</text>
<circle cx="879" cy="321.73" r="9.7" fill="url(#bg)" stroke="none"/>
<text x="879" y="326.43">79</text>
<circle cx="14.1" cy="346.9" r="9.7" fill="url(#bg)" stroke="none"/>
<text x="14.1" y="351.6">41</text>
<circle cx="127.15" cy="346.9" r="9.7" fill="url(#bg)" stroke="none"/>
<text x="127.15" y="351.6">46</text>
<circle cx="355.5" cy="346.9" r="9.7" fill="url(#bg)" stroke="none"/>
<text x="355.5" y="351.6">56</text>
<circle cx="582.6" cy="346.9" r="9.7" fill="url(#bg)" stroke="none"/>
<text x="582.6" y="351.6">66</text>
<circle cx="628.55" cy="346.9" r="9.7" fill="url(#bg)" stroke="none"/>
<text x="628.55" y="351.6">68</text>
<circle cx="651.15" cy="346.9" r="9.7" fill="url(#bg)" stroke="none"/>
<text x="651.15" y="351.6">69</text>
<circle cx="879" cy="346.9" r="9.7" fill="url(#bg)" stroke="none"/>
<text x="879" y="351.6">79</text>
<circle cx="14.1" cy="372.06" r="9.7" fill="url(#bg)" stroke="none"/>
<text x="14.1" y="376.76">41</text>
<circle cx="149.75" cy="372.06" r="9.7" fill="url(#bg)" stroke="none"/>
<text x="149.75" y="376.76">47</text>
<circle cx="263.6" cy="372.06" r="9.7" fill="url(#bg)" stroke="none"/>
<text x="263.6" y="376.76">52</text>
<circle cx="355.5" cy="372.06" r="9.7" fill="url(#bg)" stroke="none"/>
<text x="355.5" y="376.76">56</text>
<circle cx="445.75" cy="372.06" r="9.7" fill="url(#bg)" stroke="none"/>
<text x="445.75" y="376.76">60</text>
<circle cx="491.75" cy="372.06" r="9.7" fill="url(#bg)" stroke="none"/>
<text x="491.75" y="376.76">62</text>
<circle cx="514.5" cy="372.06" r="9.7" fill="url(#bg)" stroke="none"/>
<text x="514.5" y="376.76">63</text>
<circle cx="720.05" cy="372.06" r="9.7" fill="url(#bg)" stroke="none"/>
<text x="720.05" y="376.76">72</text>
<circle cx="765.3" cy="372.06" r="9.7" fill="url(#bg)" stroke="none"/>
<text x="765.3" y="376.76">74</text>
<circle cx="833.1" cy="372.06" r="9.7" fill="url(#bg)" stroke="none"/>
<text x="833.1" y="376.76">77</text>
<circle cx="879" cy="372.06" r="9.7" fill="url(#bg)" stroke="none"/>
<text x="879" y="376.76">79</text>
<circle cx="14.1" cy="397.23" r="9.7" fill="url(#bg)" stroke="none"/>
<text x="14.1" y="401.93">41</text>
<circle cx="172.4" cy="397.23" r="9.7" fill="url(#bg)" stroke="none"/>
<text x="172.4" y="401.93">48</text>
<circle cx="355.5" cy="397.23" r="9.7" fill="url(#bg)" stroke="none"/>
<text x="355.5" y="401.93">56</text>
<circle cx="537.05" cy="397.23" r="9.7" fill="url(#bg)" stroke="none"/>
<text x="537.05" y="401.93">64</text>
<circle cx="559.65" cy="397.23" r="9.7" fill="url(#bg)" stroke="none"/>
<text x="559.65" y="401.93">65</text>
<circle cx="833.1" cy="397.23" r="9.7" fill="url(#bg)" stroke="none"/>
<text x="833.1" y="401.93">77</text>
<circle cx="59.75" cy="422.39" r="9.7" fill="url(#bg)" stroke="none"/>
<text x="59.75" y="427.09">43</text>
<circle cx="149.75" cy="422.39" r="9.7" fill="url(#bg)" stroke="none"/>
<text x="149.75" y="427.09">47</text>
<circle cx="195" cy="422.39" r="9.7" fill="url(#bg)" stroke="none"/>
<text x="195" y="427.09">49</text>
<circle cx="263.6" cy="422.39" r="9.7" fill="url(#bg)" stroke="none"/>
<text x="263.6" y="427.09">52</text>
<circle cx="286.65" cy="422.39" r="9.7" fill="url(#bg)" stroke="none"/>
<text x="286.65" y="427.09">53</text>
<circle cx="332.7" cy="422.39" r="9.7" fill="url(#bg)" stroke="none"/>
<text x="332.7" y="427.09">55</text>
<circle cx="445.75" cy="422.39" r="9.7" fill="url(#bg)" stroke="none"/>
<text x="445.75" y="427.09">60</text>
<circle cx="628.55" cy="422.39" r="9.7" fill="url(#bg)" stroke="none"/>
<text x="628.55" y="427.09">68</text>
<circle cx="765.3" cy="422.39" r="9.7" fill="url(#bg)" stroke="none"/>
<text x="765.3" y="427.09">74</text>
<circle cx="810.45" cy="422.39" r="9.7" fill="url(#bg)" stroke="none"/>
<text x="810.45" y="427.09">76</text>
<circle cx="879" cy="422.39" r="9.7" fill="url(#bg)" stroke="none"/>
<text x="879" y="427.09">79</text>
<circle cx="104.7" cy="447.56" r="9.7" fill="url(#bg)" stroke="none"/>
<text x="104.7" y="452.26">45</text>
<circle cx="378.1" cy="447.56" r="9.7" fill="url(#bg)" stroke="none"/>
<text x="378.1" y="452.26">57</text>
<circle cx="468.8" cy="447.56" r="9.7" fill="url(#bg)" stroke="none"/>
<text x="468.8" y="452.26">61</text>
<circle cx="559.65" cy="447.56" r="9.7" fill="url(#bg)" stroke="none"/>
<text x="559.65" y="452.26">65</text>
<circle cx="628.55" cy="447.56" r="9.7" fill="url(#bg)" stroke="none"/>
<text x="628.55" y="452.26">68</text>
<circle cx="674.05" cy="447.56" r="9.7" fill="url(#bg)" stroke="none"/>
<text x="674.05" y="452.26">70</text>
<circle cx="720.05" cy="447.56" r="9.7" fill="url(#bg)" stroke="none"/>
<text x="720.05" y="452.26">72</text>
<circle cx="810.45" cy="447.56" r="9.7" fill="url(#bg)" stroke="none"/>
<text x="810.45" y="452.26">76</text>
<circle cx="172.4" cy="472.72" r="9.7" fill="url(#bg)" stroke="none"/>
<text x="172.4" y="477.42">48</text>
<circle cx="195" cy="472.72" r="9.7" fill="url(#bg)" stroke="none"/>
<text x="195" y="477.42">49</text>
<circle cx="217.85" cy="472.72" r="9.7" fill="url(#bg)" stroke="none"/>
<text x="217.85" y="477.42">50</text>
<circle cx="263.6" cy="472.72" r="9.7" fill="url(#bg)" stroke="none"/>
<text x="263.6" y="477.42">52</text>
<circle cx="309.8" cy="472.72" r="9.7" fill="url(#bg)" stroke="none"/>
<text x="309.8" y="477.42">54</text>
<circle cx="422.95" cy="472.72" r="9.7" fill="url(#bg)" stroke="none"/>
<text x="422.95" y="477.42">59</text>
<circle cx="468.8" cy="472.72" r="9.7" fill="url(#bg)" stroke="none"/>
<text x="468.8" y="477.42">61</text>
<circle cx="537.05" cy="472.72" r="9.7" fill="url(#bg)" stroke="none"/>
<text x="537.05" y="477.42">64</text>
<circle cx="651.15" cy="472.72" r="9.7" fill="url(#bg)" stroke="none"/>
<text x="651.15" y="477.42">69</text>
<circle cx="674.05" cy="472.72" r="9.7" fill="url(#bg)" stroke="none"/>
<text x="674.05" y="477.42">70</text>
<circle cx="879" cy="472.72" r="9.7" fill="url(#bg)" stroke="none"/>
<text x="879" y="477.42">79</text>
<circle cx="217.85" cy="497.89" r="9.7" fill="url(#bg)" stroke="none"/>
<text x="217.85" y="502.59">50</text>
<circle cx="240.8" cy="497.89" r="9.7" fill="url(#bg)" stroke="none"/>
<text x="240.8" y="502.59">51</text>
<circle cx="332.7" cy="497.89" r="9.7" fill="url(#bg)" stroke="none"/>
<text x="332.7" y="502.59">55</text>
<circle cx="491.75" cy="497.89" r="9.7" fill="url(#bg)" stroke="none"/>
<text x="491.75" y="502.59">62</text>
<circle cx="514.5" cy="497.89" r="9.7" fill="url(#bg)" stroke="none"/>
<text x="514.5" y="502.59">63</text>
<circle cx="537.05" cy="497.89" r="9.7" fill="url(#bg)" stroke="none"/>
<text x="537.05" y="502.59">64</text>
<circle cx="765.3" cy="497.89" r="9.7" fill="url(#bg)" stroke="none"/>
<text x="765.3" y="502.59">74</text>
<circle cx="787.85" cy="497.89" r="9.7" fill="url(#bg)" stroke="none"/>
<text x="787.85" y="502.59">75</text>
<circle cx="833.1" cy="497.89" r="9.7" fill="url(#bg)" stroke="none"/>
<text x="833.1" y="502.59">77</text>
<circle cx="902.45" cy="497.89" r="9.7" fill="url(#bg)" stroke="none"/>
<text x="902.45" y="502.59">80</text>
<circle cx="14.1" cy="523.05" r="9.7" fill="url(#bg)" stroke="none"/>
<text x="14.1" y="527.75">41</text>
<circle cx="59.75" cy="523.05" r="9.7" fill="url(#bg)" stroke="none"/>
<text x="59.75" y="527.75">43</text>
<circle cx="195" cy="523.05" r="9.7" fill="url(#bg)" stroke="none"/>
<text x="195" y="527.75">49</text>
<circle cx="217.85" cy="523.05" r="9.7" fill="url(#bg)" stroke="none"/>
<text x="217.85" y="527.75">50</text>
<circle cx="445.75" cy="523.05" r="9.7" fill="url(#bg)" stroke="none"/>
<text x="445.75" y="527.75">60</text>
<circle cx="559.65" cy="523.05" r="9.7" fill="url(#bg)" stroke="none"/>
<text x="559.65" y="527.75">65</text>
<circle cx="651.15" cy="523.05" r="9.7" fill="url(#bg)" stroke="none"/>
<text x="651.15" y="527.75">69</text>
<circle cx="787.85" cy="523.05" r="9.7" fill="url(#bg)" stroke="none"/>
<text x="787.85" y="527.75">75</text>
<circle cx="810.45" cy="523.05" r="9.7" fill="url(#bg)" stroke="none"/>
<text x="810.45" y="527.75">76</text>
<circle cx="902.45" cy="523.05" r="9.7" fill="url(#bg)" stroke="none"/>
<text x="902.45" y="527.75">80</text>
<circle cx="14.1" cy="548.22" r="9.7" fill="url(#bg)" stroke="none"/>
<text x="14.1" y="552.92">41</text>
<circle cx="37" cy="548.22" r="9.7" fill="url(#bg)" stroke="none"/>
<text x="37" y="552.92">42</text>
<circle cx="82.3" cy="548.22" r="9.7" fill="url(#bg)" stroke="none"/>
<text x="82.3" y="552.92">44</text>
<circle cx="172.4" cy="548.22" r="9.7" fill="url(#bg)" stroke="none"/>
<text x="172.4" y="552.92">48</text>
<circle cx="286.65" cy="548.22" r="9.7" fill="url(#bg)" stroke="none"/>
<text x="286.65" y="552.92">53</text>
<circle cx="445.75" cy="548.22" r="9.7" fill="url(#bg)" stroke="none"/>
<text x="445.75" y="552.92">60</text>
<circle cx="468.8" cy="548.22" r="9.7" fill="url(#bg)" stroke="none"/>
<text x="468.8" y="552.92">61</text>
<circle cx="651.15" cy="548.22" r="9.7" fill="url(#bg)" stroke="none"/>
<text x="651.15" y="552.92">69</text>
<circle cx="720.05" cy="548.22" r="9.7" fill="url(#bg)" stroke="none"/>
<text x="720.05" y="552.92">72</text>
<circle cx="787.85" cy="548.22" r="9.7" fill="url(#bg)" stroke="none"/>
<text x="787.85" y="552.92">75</text>
<circle cx="14.1" cy="573.38" r="9.7" fill="url(#bg)" stroke="none"/>
<text x="14.1" y="578.08">41</text>
<circle cx="59.75" cy="573.38" r="9.7" fill="url(#bg)" stroke="none"/>
<text x="59.75" y="578.08">43</text>
<circle cx="104.7" cy="573.38" r="9.7" fill="url(#bg)" stroke="none"/>
<text x="104.7" y="578.08">45</text>
<circle cx="127.15" cy="573.38" r="9.7" fill="url(#bg)" stroke="none"/>
<text x="127.15" y="578.08">46</text>
<circle cx="195" cy="573.38" r="9.7" fill="url(#bg)" stroke="none"/>
<text x="195" y="578.08">49</text>
<circle cx="240.8" cy="573.38" r="9.7" fill="url(#bg)" stroke="none"/>
<text x="240.8" y="578.08">51</text>
<circle cx="378.1" cy="573.38" r="9.7" fill="url(#bg)" stroke="none"/>
<text x="378.1" y="578.08">57</text>
<circle cx="400.5" cy="573.38" r="9.7" fill="url(#bg)" stroke="none"/>
<text x="400.5" y="578.08">58</text>
<circle cx="445.75" cy="573.38" r="9.7" fill="url(#bg)" stroke="none"/>
<text x="445.75" y="578.08">60</text>
<circle cx="491.75" cy="573.38" r="9.7" fill="url(#bg)" stroke="none"/>
<text x="491.75" y="578.08">62</text>
<circle cx="537.05" cy="573.38" r="9.7" fill="url(#bg)" stroke="none"/>
<text x="537.05" y="578.08">64</text>
<circle cx="559.65" cy="573.38" r="9.7" fill="url(#bg)" stroke="none"/>
<text x="559.65" y="578.08">65</text>
<circle cx="582.6" cy="573.38" r="9.7" fill="url(#bg)" stroke="none"/>
<text x="582.6" y="578.08">66</text>
<circle cx="720.05" cy="573.38" r="9.7" fill="url(#bg)" stroke="none"/>
<text x="720.05" y="578.08">72</text>
<circle cx="765.3" cy="573.38" r="9.7" fill="url(#bg)" stroke="none"/>
<text x="765.3" y="578.08">74</text>
<circle cx="14.1" cy="598.55" r="9.7" fill="url(#bg)" stroke="none"/>
<text x="14.1" y="603.25">41</text>
<circle cx="149.75" cy="598.55" r="9.7" fill="url(#bg)" stroke="none"/>
<text x="149.75" y="603.25">47</text>
<circle cx="355.5" cy="598.55" r="9.7" fill="url(#bg)" stroke="none"/>
<text x="355.5" y="603.25">56</text>
<circle cx="491.75" cy="598.55" r="9.7" fill="url(#bg)" stroke="none"/>
<text x="491.75" y="603.25">62</text>
<circle cx="605.7" cy="598.55" r="9.7" fill="url(#bg)" stroke="none"/>
<text x="605.7" y="603.25">67</text>
<circle cx="674.05" cy="598.55" r="9.7" fill="url(#bg)" stroke="none"/>
<text x="674.05" y="603.25">70</text>
<circle cx="697.2" cy="598.55" r="9.7" fill="url(#bg)" stroke="none"/>
<text x="697.2" y="603.25">71</text>
<circle cx="833.1" cy="598.55" r="9.7" fill="url(#bg)" stroke="none"/>
<text x="833.1" y="603.25">77</text>
<circle cx="104.7" cy="623.71" r="9.7" fill="url(#bg)" stroke="none"/>
<text x="104.7" y="628.41">45</text>
<circle cx="195" cy="623.71" r="9.7" fill="url(#bg)" stroke="none"/>
<text x="195" y="628.41">49</text>
<circle cx="240.8" cy="623.71" r="9.7" fill="url(#bg)" stroke="none"/>
<text x="240.8" y="628.41">51</text>
<circle cx="355.5" cy="623.71" r="9.7" fill="url(#bg)" stroke="none"/>
<text x="355.5" y="628.41">56</text>
<circle cx="422.95" cy="623.71" r="9.7" fill="url(#bg)" stroke="none"/>
<text x="422.95" y="628.41">59</text>
<circle cx="582.6" cy="623.71" r="9.7" fill="url(#bg)" stroke="none"/>
<text x="582.6" y="628.41">66</text>
<circle cx="651.15" cy="623.71" r="9.7" fill="url(#bg)" stroke="none"/>
<text x="651.15" y="628.41">69</text>
<circle cx="765.3" cy="623.71" r="9.7" fill="url(#bg)" stroke="none"/>
<text x="765.3" y="628.41">74</text>
<circle cx="902.45" cy="623.71" r="9.7" fill="url(#bg)" stroke="none"/>
<text x="902.45" y="628.41">80</text>
<circle cx="14.1" cy="648.88" r="9.7" fill="url(#bg)" stroke="none"/>
<text x="14.1" y="653.58">41</text>
<circle cx="82.3" cy="648.88" r="9.7" fill="url(#bg)" stroke="none"/>
<text x="82.3" y="653.58">44</text>
<circle cx="514.5" cy="648.88" r="9.7" fill="url(#bg)" stroke="none"/>
<text x="514.5" y="653.58">63</text>
<circle cx="605.7" cy="648.88" r="9.7" fill="url(#bg)" stroke="none"/>
<text x="605.7" y="653.58">67</text>
<circle cx="628.55" cy="648.88" r="9.7" fill="url(#bg)" stroke="none"/>
<text x="628.55" y="653.58">68</text>
<circle cx="37" cy="674.04" r="9.7" fill="url(#bg)" stroke="none"/>
<text x="37" y="678.74">42</text>
<circle cx="59.75" cy="674.04" r="9.7" fill="url(#bg)" stroke="none"/>
<text x="59.75" y="678.74">43</text>
<circle cx="82.3" cy="674.04" r="9.7" fill="url(#bg)" stroke="none"/>
<text x="82.3" y="678.74">44</text>
<circle cx="240.8" cy="674.04" r="9.7" fill="url(#bg)" stroke="none"/>
<text x="240.8" y="678.74">51</text>
<circle cx="332.7" cy="674.04" r="9.7" fill="url(#bg)" stroke="none"/>
<text x="332.7" y="678.74">55</text>
<circle cx="445.75" cy="674.04" r="9.7" fill="url(#bg)" stroke="none"/>
<text x="445.75" y="678.74">60</text>
<circle cx="559.65" cy="674.04" r="9.7" fill="url(#bg)" stroke="none"/>
<text x="559.65" y="678.74">65</text>
<circle cx="697.2" cy="674.04" r="9.7" fill="url(#bg)" stroke="none"/>
<text x="697.2" y="678.74">71</text>
<circle cx="879" cy="674.04" r="9.7" fill="url(#bg)" stroke="none"/>
<text x="879" y="678.74">79</text>
<circle cx="902.45" cy="674.04" r="9.7" fill="url(#bg)" stroke="none"/>
<text x="902.45" y="678.74">80</text>
<circle cx="195" cy="699.21" r="9.7" fill="url(#bg)" stroke="none"/>
<text x="195" y="703.91">49</text>
<circle cx="309.8" cy="699.21" r="9.7" fill="url(#bg)" stroke="none"/>
<text x="309.8" y="703.91">54</text>
<circle cx="332.7" cy="699.21" r="9.7" fill="url(#bg)" stroke="none"/>
<text x="332.7" y="703.91">55</text>
<circle cx="400.5" cy="699.21" r="9.7" fill="url(#bg)" stroke="none"/>
<text x="400.5" y="703.91">58</text>
<circle cx="514.5" cy="699.21" r="9.7" fill="url(#bg)" stroke="none"/>
<text x="514.5" y="703.91">63</text>
<circle cx="537.05" cy="699.21" r="9.7" fill="url(#bg)" stroke="none"/>
<text x="537.05" y="703.91">64</text>
<circle cx="605.7" cy="699.21" r="9.7" fill="url(#bg)" stroke="none"/>
<text x="605.7" y="703.91">67</text>
<circle cx="787.85" cy="699.21" r="9.7" fill="url(#bg)" stroke="none"/>
<text x="787.85" y="703.91">75</text>
<circle cx="879" cy="699.21" r="9.7" fill="url(#bg)" stroke="none"/>
<text x="879" y="703.91">79</text>
<circle cx="172.4" cy="724.37" r="9.7" fill="url(#bg)" stroke="none"/>
<text x="172.4" y="729.07">48</text>
<circle cx="217.85" cy="724.37" r="9.7" fill="url(#bg)" stroke="none"/>
<text x="217.85" y="729.07">50</text>
<circle cx="240.8" cy="724.37" r="9.7" fill="url(#bg)" stroke="none"/>
<text x="240.8" y="729.07">51</text>
<circle cx="355.5" cy="724.37" r="9.7" fill="url(#bg)" stroke="none"/>
<text x="355.5" y="729.07">56</text>
<circle cx="400.5" cy="724.37" r="9.7" fill="url(#bg)" stroke="none"/>
<text x="400.5" y="729.07">58</text>
<circle cx="559.65" cy="724.37" r="9.7" fill="url(#bg)" stroke="none"/>
<text x="559.65" y="729.07">65</text>
<circle cx="605.7" cy="724.37" r="9.7" fill="url(#bg)" stroke="none"/>
<text x="605.7" y="729.07">67</text>
<circle cx="651.15" cy="724.37" r="9.7" fill="url(#bg)" stroke="none"/>
<text x="651.15" y="729.07">69</text>
<circle cx="697.2" cy="724.37" r="9.7" fill="url(#bg)" stroke="none"/>
<text x="697.2" y="729.07">71</text>
<circle cx="742.7" cy="724.37" r="9.7" fill="url(#bg)" stroke="none"/>
<text x="742.7" y="729.07">73</text>
<circle cx="765.3" cy="724.37" r="9.7" fill="url(#bg)" stroke="none"/>
<text x="765.3" y="729.07">74</text>
<circle cx="787.85" cy="724.37" r="9.7" fill="url(#bg)" stroke="none"/>
<text x="787.85" y="729.07">75</text>
<circle cx="879" cy="724.37" r="9.7" fill="url(#bg)" stroke="none"/>
<text x="879" y="729.07">79</text>
<circle cx="59.75" cy="749.54" r="9.7" fill="url(#bg)" stroke="none"/>
<text x="59.75" y="754.24">43</text>
<circle cx="217.85" cy="749.54" r="9.7" fill="url(#bg)" stroke="none"/>
<text x="217.85" y="754.24">50</text>
<circle cx="263.6" cy="749.54" r="9.7" fill="url(#bg)" stroke="none"/>
<text x="263.6" y="754.24">52</text>
<circle cx="378.1" cy="749.54" r="9.7" fill="url(#bg)" stroke="none"/>
<text x="378.1" y="754.24">57</text>
<circle cx="445.75" cy="749.54" r="9.7" fill="url(#bg)" stroke="none"/>
<text x="445.75" y="754.24">60</text>
<circle cx="720.05" cy="749.54" r="9.7" fill="url(#bg)" stroke="none"/>
<text x="720.05" y="754.24">72</text>
<circle cx="879" cy="749.54" r="9.7" fill="url(#bg)" stroke="none"/>
<text x="879" y="754.24">79</text>
<circle cx="902.45" cy="749.54" r="9.7" fill="url(#bg)" stroke="none"/>
<text x="902.45" y="754.24">80</text>
<circle cx="37" cy="774.7" r="9.7" fill="url(#bg)" stroke="none"/>
<text x="37" y="779.4">42</text>
<circle cx="149.75" cy="774.7" r="9.7" fill="url(#bg)" stroke="none"/>
<text x="149.75" y="779.4">47</text>
<circle cx="195" cy="774.7" r="9.7" fill="url(#bg)" stroke="none"/>
<text x="195" y="779.4">49</text>
<circle cx="240.8" cy="774.7" r="9.7" fill="url(#bg)" stroke="none"/>
<text x="240.8" y="779.4">51</text>
<circle cx="286.65" cy="774.7" r="9.7" fill="url(#bg)" stroke="none"/>
<text x="286.65" y="779.4">53</text>
<circle cx="491.75" cy="774.7" r="9.7" fill="url(#bg)" stroke="none"/>
<text x="491.75" y="779.4">62</text>
<circle cx="582.6" cy="774.7" r="9.7" fill="url(#bg)" stroke="none"/>
<text x="582.6" y="779.4">66</text>
<circle cx="651.15" cy="774.7" r="9.7" fill="url(#bg)" stroke="none"/>
<text x="651.15" y="779.4">69</text>
<circle cx="697.2" cy="774.7" r="9.7" fill="url(#bg)" stroke="none"/>
<text x="697.2" y="779.4">71</text>
<circle cx="765.3" cy="774.7" r="9.7" fill="url(#bg)" stroke="none"/>
<text x="765.3" y="779.4">74</text>
<circle cx="902.45" cy="774.7" r="9.7" fill="url(#bg)" stroke="none"/>
<text x="902.45" y="779.4">80</text>
<circle cx="14.1" cy="799.87" r="9.7" fill="url(#bg)" stroke="none"/>
<text x="14.1" y="804.57">41</text>
<circle cx="127.15" cy="799.87" r="9.7" fill="url(#bg)" stroke="none"/>
<text x="127.15" y="804.57">46</text>
<circle cx="149.75" cy="799.87" r="9.7" fill="url(#bg)" stroke="none"/>
<text x="149.75" y="804.57">47</text>
<circle cx="172.4" cy="799.87" r="9.7" fill="url(#bg)" stroke="none"/>
<text x="172.4" y="804.57">48</text>
<circle cx="240.8" cy="799.87" r="9.7" fill="url(#bg)" stroke="none"/>
<text x="240.8" y="804.57">51</text>
<circle cx="378.1" cy="799.87" r="9.7" fill="url(#bg)" stroke="none"/>
<text x="378.1" y="804.57">57</text>
<circle cx="514.5" cy="799.87" r="9.7" fill="url(#bg)" stroke="none"/>
<text x="514.5" y="804.57">63</text>
<circle cx="651.15" cy="799.87" r="9.7" fill="url(#bg)" stroke="none"/>
<text x="651.15" y="804.57">69</text>
<circle cx="674.05" cy="799.87" r="9.7" fill="url(#bg)" stroke="none"/>
<text x="674.05" y="804.57">70</text>
<circle cx="787.85" cy="799.87" r="9.7" fill="url(#bg)" stroke="none"/>
<text x="787.85" y="804.57">75</text>
<circle cx="810.45" cy="799.87" r="9.7" fill="url(#bg)" stroke="none"/>
<text x="810.45" y="804.57">76</text>
</g>
<rect x="0" y="811.6" width="915" height="2.7" fill="#c81414"/>
<g font-size="14" text-anchor="middle">
<circle cx="13.6" cy="826.3" r="8.9" fill="#ffffff" stroke="#e15e62" stroke-width="1.7"/>
<text x="13.7" y="831.1" font-size="13.4" fill="#a8afb9" stroke="#a8afb9" stroke-width="0.15">41</text>
<circle cx="36.5" cy="826.3" r="8.9" fill="#ffffff" stroke="#e15e62" stroke-width="1.7"/>
<text x="36.6" y="831.1" font-size="13.4" fill="#a8afb9" stroke="#a8afb9" stroke-width="0.15">42</text>
<circle cx="59.25" cy="826.3" r="9.7" fill="url(#bg)"/>
<text x="59.25" y="831.3" fill="#ffffff">43</text>
<circle cx="81.8" cy="826.3" r="9.7" fill="url(#bg)"/>
<text x="81.8" y="831.3" fill="#ffffff">44</text>
<circle cx="104.2" cy="826.3" r="9.7" fill="url(#bg)"/>
<text x="104.2" y="831.3" fill="#ffffff">45</text>
<circle cx="126.65" cy="826.3" r="8.9" fill="#ffffff" stroke="#e15e62" stroke-width="1.7"/>
<text x="126.75" y="831.1" font-size="13.4" fill="#a8afb9" stroke="#a8afb9" stroke-width="0.15">46</text>
<circle cx="149.25" cy="826.3" r="8.9" fill="#ffffff" stroke="#e15e62" stroke-width="1.7"/>
<text x="149.35" y="831.1" font-size="13.4" fill="#a8afb9" stroke="#a8afb9" stroke-width="0.15">47</text>
<circle cx="171.9" cy="826.3" r="8.9" fill="#ffffff" stroke="#e15e62" stroke-width="1.7"/>
<text x="172" y="831.1" font-size="13.4" fill="#a8afb9" stroke="#a8afb9" stroke-width="0.15">48</text>
<circle cx="194.5" cy="826.3" r="9.7" fill="url(#bg)"/>
<text x="194.5" y="831.3" fill="#ffffff">49</text>
<circle cx="217.35" cy="826.3" r="8.9" fill="#ffffff" stroke="#e15e62" stroke-width="1.7"/>
<text x="217.45" y="831.1" font-size="13.4" fill="#a8afb9" stroke="#a8afb9" stroke-width="0.15">50</text>
<circle cx="240.3" cy="826.3" r="8.9" fill="#ffffff" stroke="#e15e62" stroke-width="1.7"/>
<text x="240.4" y="831.1" font-size="13.4" fill="#a8afb9" stroke="#a8afb9" stroke-width="0.15">51</text>
<circle cx="263.1" cy="826.3" r="8.9" fill="#ffffff" stroke="#e15e62" stroke-width="1.7"/>
<text x="263.2" y="831.1" font-size="13.4" fill="#a8afb9" stroke="#a8afb9" stroke-width="0.15">52</text>
<circle cx="286.15" cy="826.3" r="8.9" fill="#ffffff" stroke="#e15e62" stroke-width="1.7"/>
<text x="286.25" y="831.1" font-size="13.4" fill="#a8afb9" stroke="#a8afb9" stroke-width="0.15">53</text>
<circle cx="309.3" cy="826.3" r="8.9" fill="#ffffff" stroke="#e15e62" stroke-width="1.7"/>
<text x="309.4" y="831.1" font-size="13.4" fill="#a8afb9" stroke="#a8afb9" stroke-width="0.15">54</text>
<circle cx="332.2" cy="826.3" r="8.9" fill="#ffffff" stroke="#e15e62" stroke-width="1.7"/>
<text x="332.3" y="831.1" font-size="13.4" fill="#a8afb9" stroke="#a8afb9" stroke-width="0.15">55</text>
<circle cx="355" cy="826.3" r="8.9" fill="#ffffff" stroke="#e15e62" stroke-width="1.7"/>
<text x="355.1" y="831.1" font-size="13.4" fill="#a8afb9" stroke="#a8afb9" stroke-width="0.15">56</text>
<circle cx="377.6" cy="826.3" r="9.7" fill="url(#bg)"/>
<text x="377.6" y="831" fill="#ffffff" font-weight="bold" font-size="13.8">57</text>
<circle cx="400" cy="826.3" r="8.9" fill="#ffffff" stroke="#e15e62" stroke-width="1.7"/>
<text x="400.1" y="831.1" font-size="13.4" fill="#a8afb9" stroke="#a8afb9" stroke-width="0.15">58</text>
<circle cx="422.45" cy="826.3" r="8.9" fill="#ffffff" stroke="#e15e62" stroke-width="1.7"/>
<text x="422.55" y="831.1" font-size="13.4" fill="#a8afb9" stroke="#a8afb9" stroke-width="0.15">59</text>
<circle cx="445.25" cy="826.3" r="8.9" fill="#ffffff" stroke="#e15e62" stroke-width="1.7"/>
<text x="445.35" y="831.1" font-size="13.4" fill="#a8afb9" stroke="#a8afb9" stroke-width="0.15">60</text>
<circle cx="468.3" cy="826.3" r="8.9" fill="#ffffff" stroke="#e15e62" stroke-width="1.7"/>
<text x="468.4" y="831.1" font-size="13.4" fill="#a8afb9" stroke="#a8afb9" stroke-width="0.15">61</text>
<circle cx="491.25" cy="826.3" r="8.9" fill="#ffffff" stroke="#e15e62" stroke-width="1.7"/>
<text x="491.35" y="831.1" font-size="13.4" fill="#a8afb9" stroke="#a8afb9" stroke-width="0.15">62</text>
<circle cx="514" cy="826.3" r="8.9" fill="#ffffff" stroke="#e15e62" stroke-width="1.7"/>
<text x="514.1" y="831.1" font-size="13.4" fill="#a8afb9" stroke="#a8afb9" stroke-width="0.15">63</text>
<circle cx="536.55" cy="826.3" r="9.7" fill="url(#bg)"/>
<text x="536.55" y="831.3" fill="#ffffff">64</text>
<circle cx="559.15" cy="826.3" r="9.7" fill="url(#bg)"/>
<text x="559.15" y="831.3" fill="#ffffff">65</text>
<circle cx="582.1" cy="826.3" r="8.9" fill="#ffffff" stroke="#e15e62" stroke-width="1.7"/>
<text x="582.2" y="831.1" font-size="13.4" fill="#a8afb9" stroke="#a8afb9" stroke-width="0.15">66</text>
<circle cx="605.2" cy="826.3" r="8.9" fill="#ffffff" stroke="#e15e62" stroke-width="1.7"/>
<text x="605.3" y="831.1" font-size="13.4" fill="#a8afb9" stroke="#a8afb9" stroke-width="0.15">67</text>
<circle cx="628.05" cy="826.3" r="8.9" fill="#ffffff" stroke="#e15e62" stroke-width="1.7"/>
<text x="628.15" y="831.1" font-size="13.4" fill="#a8afb9" stroke="#a8afb9" stroke-width="0.15">68</text>
<circle cx="650.65" cy="826.3" r="8.9" fill="#ffffff" stroke="#e15e62" stroke-width="1.7"/>
<text x="650.75" y="831.1" font-size="13.4" fill="#a8afb9" stroke="#a8afb9" stroke-width="0.15">69</text>
<circle cx="673.55" cy="826.3" r="8.9" fill="#ffffff" stroke="#e15e62" stroke-width="1.7"/>
<text x="673.65" y="831.1" font-size="13.4" fill="#a8afb9" stroke="#a8afb9" stroke-width="0.15">70</text>
<circle cx="696.7" cy="826.3" r="9.7" fill="url(#bg)"/>
<text x="696.7" y="831.3" fill="#ffffff">71</text>
<circle cx="719.55" cy="826.3" r="8.9" fill="#ffffff" stroke="#e15e62" stroke-width="1.7"/>
<text x="719.65" y="831.1" font-size="13.4" fill="#a8afb9" stroke="#a8afb9" stroke-width="0.15">72</text>
<circle cx="742.2" cy="826.3" r="8.9" fill="#ffffff" stroke="#e15e62" stroke-width="1.7"/>
<text x="742.3" y="831.1" font-size="13.4" fill="#a8afb9" stroke="#a8afb9" stroke-width="0.15">73</text>
<circle cx="764.8" cy="826.3" r="8.9" fill="#ffffff" stroke="#e15e62" stroke-width="1.7"/>
<text x="764.9" y="831.1" font-size="13.4" fill="#a8afb9" stroke="#a8afb9" stroke-width="0.15">74</text>
<circle cx="787.35" cy="826.3" r="9.7" fill="url(#bg)"/>
<text x="787.35" y="831.3" fill="#ffffff">75</text>
<circle cx="809.95" cy="826.3" r="9.7" fill="url(#bg)"/>
<text x="809.95" y="831.3" fill="#ffffff">76</text>
<circle cx="832.6" cy="826.3" r="8.9" fill="#ffffff" stroke="#e15e62" stroke-width="1.7"/>
<text x="832.7" y="831.1" font-size="13.4" fill="#a8afb9" stroke="#a8afb9" stroke-width="0.15">77</text>
<circle cx="855.5" cy="826.3" r="8.9" fill="#ffffff" stroke="#e15e62" stroke-width="1.7"/>
<text x="855.6" y="831.1" font-size="13.4" fill="#a8afb9" stroke="#a8afb9" stroke-width="0.15">78</text>
<circle cx="878.5" cy="826.3" r="8.9" fill="#ffffff" stroke="#e15e62" stroke-width="1.7"/>
<text x="878.6" y="831.1" font-size="13.4" fill="#a8afb9" stroke="#a8afb9" stroke-width="0.15">79</text>
<circle cx="901.95" cy="826.3" r="8.9" fill="#ffffff" stroke="#e15e62" stroke-width="1.7"/>
<text x="902.05" y="831.1" font-size="13.4" fill="#a8afb9" stroke="#a8afb9" stroke-width="0.15">80</text>
<circle cx="13.6" cy="851.1" r="8.9" fill="#ffffff" stroke="#e15e62" stroke-width="1.7"/>
<text x="13.7" y="855.9" font-size="13.4" fill="#a8afb9" stroke="#a8afb9" stroke-width="0.15">41</text>
<circle cx="36.5" cy="851.1" r="8.9" fill="#ffffff" stroke="#e15e62" stroke-width="1.7"/>
<text x="36.6" y="855.9" font-size="13.4" fill="#a8afb9" stroke="#a8afb9" stroke-width="0.15">42</text>
<circle cx="59.25" cy="851.1" r="8.9" fill="#ffffff" stroke="#e15e62" stroke-width="1.7"/>
<text x="59.35" y="855.9" font-size="13.4" fill="#a8afb9" stroke="#a8afb9" stroke-width="0.15">43</text>
<circle cx="81.8" cy="851.1" r="8.9" fill="#ffffff" stroke="#e15e62" stroke-width="1.7"/>
<text x="81.9" y="855.9" font-size="13.4" fill="#a8afb9" stroke="#a8afb9" stroke-width="0.15">44</text>
<circle cx="104.2" cy="851.1" r="8.9" fill="#ffffff" stroke="#e15e62" stroke-width="1.7"/>
<text x="104.3" y="855.9" font-size="13.4" fill="#a8afb9" stroke="#a8afb9" stroke-width="0.15">45</text>
<circle cx="126.65" cy="851.1" r="8.9" fill="#ffffff" stroke="#e15e62" stroke-width="1.7"/>
<text x="126.75" y="855.9" font-size="13.4" fill="#a8afb9" stroke="#a8afb9" stroke-width="0.15">46</text>
<circle cx="149.25" cy="851.1" r="8.9" fill="#ffffff" stroke="#e15e62" stroke-width="1.7"/>
<text x="149.35" y="855.9" font-size="13.4" fill="#a8afb9" stroke="#a8afb9" stroke-width="0.15">47</text>
<circle cx="171.9" cy="851.1" r="8.9" fill="#ffffff" stroke="#e15e62" stroke-width="1.7"/>
<text x="172" y="855.9" font-size="13.4" fill="#a8afb9" stroke="#a8afb9" stroke-width="0.15">48</text>
<circle cx="194.5" cy="851.1" r="8.9" fill="#ffffff" stroke="#e15e62" stroke-width="1.7"/>
<text x="194.6" y="855.9" font-size="13.4" fill="#a8afb9" stroke="#a8afb9" stroke-width="0.15">49</text>
<circle cx="217.35" cy="851.1" r="8.9" fill="#ffffff" stroke="#e15e62" stroke-width="1.7"/>
<text x="217.45" y="855.9" font-size="13.4" fill="#a8afb9" stroke="#a8afb9" stroke-width="0.15">50</text>
<circle cx="240.3" cy="851.1" r="8.9" fill="#ffffff" stroke="#e15e62" stroke-width="1.7"/>
<text x="240.4" y="855.9" font-size="13.4" fill="#a8afb9" stroke="#a8afb9" stroke-width="0.15">51</text>
<circle cx="263.1" cy="851.1" r="8.9" fill="#ffffff" stroke="#e15e62" stroke-width="1.7"/>
<text x="263.2" y="855.9" font-size="13.4" fill="#a8afb9" stroke="#a8afb9" stroke-width="0.15">52</text>
<circle cx="286.15" cy="851.1" r="8.9" fill="#ffffff" stroke="#e15e62" stroke-width="1.7"/>
<text x="286.25" y="855.9" font-size="13.4" fill="#a8afb9" stroke="#a8afb9" stroke-width="0.15">53</text>
<circle cx="309.3" cy="851.1" r="8.9" fill="#ffffff" stroke="#e15e62" stroke-width="1.7"/>
<text x="309.4" y="855.9" font-size="13.4" fill="#a8afb9" stroke="#a8afb9" stroke-width="0.15">54</text>
<circle cx="332.2" cy="851.1" r="8.9" fill="#ffffff" stroke="#e15e62" stroke-width="1.7"/>
<text x="332.3" y="855.9" font-size="13.4" fill="#a8afb9" stroke="#a8afb9" stroke-width="0.15">55</text>
<circle cx="355" cy="851.1" r="8.9" fill="#ffffff" stroke="#e15e62" stroke-width="1.7"/>
<text x="355.1" y="855.9" font-size="13.4" fill="#a8afb9" stroke="#a8afb9" stroke-width="0.15">56</text>
<circle cx="377.6" cy="851.1" r="8.9" fill="#ffffff" stroke="#e15e62" stroke-width="1.7"/>
<text x="377.7" y="855.9" font-size="13.4" fill="#a8afb9" stroke="#a8afb9" stroke-width="0.15">57</text>
<circle cx="400" cy="851.1" r="8.9" fill="#ffffff" stroke="#e15e62" stroke-width="1.7"/>
<text x="400.1" y="855.9" font-size="13.4" fill="#a8afb9" stroke="#a8afb9" stroke-width="0.15">58</text>
<circle cx="422.45" cy="851.1" r="8.9" fill="#ffffff" stroke="#e15e62" stroke-width="1.7"/>
<text x="422.55" y="855.9" font-size="13.4" fill="#a8afb9" stroke="#a8afb9" stroke-width="0.15">59</text>
<circle cx="445.25" cy="851.1" r="8.9" fill="#ffffff" stroke="#e15e62" stroke-width="1.7"/>
<text x="445.35" y="855.9" font-size="13.4" fill="#a8afb9" stroke="#a8afb9" stroke-width="0.15">60</text>
<circle cx="468.3" cy="851.1" r="8.9" fill="#ffffff" stroke="#e15e62" stroke-width="1.7"/>
<text x="468.4" y="855.9" font-size="13.4" fill="#a8afb9" stroke="#a8afb9" stroke-width="0.15">61</text>
<circle cx="491.25" cy="851.1" r="8.9" fill="#ffffff" stroke="#e15e62" stroke-width="1.7"/>
<text x="491.35" y="855.9" font-size="13.4" fill="#a8afb9" stroke="#a8afb9" stroke-width="0.15">62</text>
<circle cx="514" cy="851.1" r="8.9" fill="#ffffff" stroke="#e15e62" stroke-width="1.7"/>
<text x="514.1" y="855.9" font-size="13.4" fill="#a8afb9" stroke="#a8afb9" stroke-width="0.15">63</text>
<circle cx="536.55" cy="851.1" r="8.9" fill="#ffffff" stroke="#e15e62" stroke-width="1.7"/>
<text x="536.65" y="855.9" font-size="13.4" fill="#a8afb9" stroke="#a8afb9" stroke-width="0.15">64</text>
<circle cx="559.15" cy="851.1" r="8.9" fill="#ffffff" stroke="#e15e62" stroke-width="1.7"/>
<text x="559.25" y="855.9" font-size="13.4" fill="#a8afb9" stroke="#a8afb9" stroke-width="0.15">65</text>
<circle cx="582.1" cy="851.1" r="8.9" fill="#ffffff" stroke="#e15e62" stroke-width="1.7"/>
<text x="582.2" y="855.9" font-size="13.4" fill="#a8afb9" stroke="#a8afb9" stroke-width="0.15">66</text>
<circle cx="605.2" cy="851.1" r="8.9" fill="#ffffff" stroke="#e15e62" stroke-width="1.7"/>
<text x="605.3" y="855.9" font-size="13.4" fill="#a8afb9" stroke="#a8afb9" stroke-width="0.15">67</text>
<circle cx="628.05" cy="851.1" r="8.9" fill="#ffffff" stroke="#e15e62" stroke-width="1.7"/>
<text x="628.15" y="855.9" font-size="13.4" fill="#a8afb9" stroke="#a8afb9" stroke-width="0.15">68</text>
<circle cx="650.65" cy="851.1" r="8.9" fill="#ffffff" stroke="#e15e62" stroke-width="1.7"/>
<text x="650.75" y="855.9" font-size="13.4" fill="#a8afb9" stroke="#a8afb9" stroke-width="0.15">69</text>
<circle cx="673.55" cy="851.1" r="8.9" fill="#ffffff" stroke="#e15e62" stroke-width="1.7"/>
<text x="673.65" y="855.9" font-size="13.4" fill="#a8afb9" stroke="#a8afb9" stroke-width="0.15">70</text>
<circle cx="696.7" cy="851.1" r="8.9" fill="#ffffff" stroke="#e15e62" stroke-width="1.7"/>
<text x="696.8" y="855.9" font-size="13.4" fill="#a8afb9" stroke="#a8afb9" stroke-width="0.15">71</text>
<circle cx="719.55" cy="851.1" r="8.9" fill="#ffffff" stroke="#e15e62" stroke-width="1.7"/>
<text x="719.65" y="855.9" font-size="13.4" fill="#a8afb9" stroke="#a8afb9" stroke-width="0.15">72</text>
<circle cx="742.2" cy="851.1" r="8.9" fill="#ffffff" stroke="#e15e62" stroke-width="1.7"/>
<text x="742.3" y="855.9" font-size="13.4" fill="#a8afb9" stroke="#a8afb9" stroke-width="0.15">73</text>
<circle cx="764.8" cy="851.1" r="8.9" fill="#ffffff" stroke="#e15e62" stroke-width="1.7"/>
<text x="764.9" y="855.9" font-size="13.4" fill="#a8afb9" stroke="#a8afb9" stroke-width="0.15">74</text>
<circle cx="787.35" cy="851.1" r="8.9" fill="#ffffff" stroke="#e15e62" stroke-width="1.7"/>
<text x="787.45" y="855.9" font-size="13.4" fill="#a8afb9" stroke="#a8afb9" stroke-width="0.15">75</text>
<circle cx="809.95" cy="851.1" r="8.9" fill="#ffffff" stroke="#e15e62" stroke-width="1.7"/>
<text x="810.05" y="855.9" font-size="13.4" fill="#a8afb9" stroke="#a8afb9" stroke-width="0.15">76</text>
<circle cx="832.6" cy="851.1" r="8.9" fill="#ffffff" stroke="#e15e62" stroke-width="1.7"/>
<text x="832.7" y="855.9" font-size="13.4" fill="#a8afb9" stroke="#a8afb9" stroke-width="0.15">77</text>
<circle cx="855.5" cy="851.1" r="8.9" fill="#ffffff" stroke="#e15e62" stroke-width="1.7"/>
<text x="855.6" y="855.9" font-size="13.4" fill="#a8afb9" stroke="#a8afb9" stroke-width="0.15">78</text>
<circle cx="878.5" cy="851.1" r="8.9" fill="#ffffff" stroke="#e15e62" stroke-width="1.7"/>
<text x="878.6" y="855.9" font-size="13.4" fill="#a8afb9" stroke="#a8afb9" stroke-width="0.15">79</text>
<circle cx="901.95" cy="851.1" r="8.9" fill="#ffffff" stroke="#e15e62" stroke-width="1.7"/>
<text x="902.05" y="855.9" font-size="13.4" fill="#a8afb9" stroke="#a8afb9" stroke-width="0.15">80</text>
</g>
<circle cx="-8.5" cy="826.3" r="8.9" fill="none" stroke="#e15e62" stroke-width="1.7"/>
<circle cx="-8.5" cy="851.1" r="8.9" fill="none" stroke="#e15e62" stroke-width="1.7"/>
<rect x="316.3" y="535.9" width="146.2" height="299.35" fill="none" stroke="#1fc585" stroke-width="3.2"/>
<rect x="434.35" y="535.9" width="24.05" height="57" fill="none" stroke="#1fc585" stroke-width="3.2"/>
<rect x="342.5" y="584.7" width="24.4" height="54.3" fill="none" stroke="#1fc585" stroke-width="3.2"/>
<rect x="322.1" y="660.4" width="24.25" height="53.9" fill="none" stroke="#1fc585" stroke-width="3.2"/>
<rect x="390.7" y="685.6" width="24.7" height="54.3" fill="none" stroke="#1fc585" stroke-width="3.2"/>
<rect x="365.95" y="780.5" width="24.65" height="54.75" fill="none" stroke="#1fc585" stroke-width="3.2"/>
<rect x="522.2" y="809.6" width="50.5" height="29.7" fill="none" stroke="#1fc585" stroke-width="3.2"/>
<rect x="776.9" y="786.2" width="49.8" height="53.1" fill="none" stroke="#1fc585" stroke-width="3.2"/>
<polygon points="260.09,469.7 216.23,522.41 219.85,525.41 263.71,472.7" fill="#1ec882" fill-opacity="0.6"/>
<polygon points="218.34,510.89 215.8,526.6 230.79,521.25" fill="#1ec882" fill-opacity="0.6"/>
<polygon points="229,519.35 178.5,519.35 178.5,524.05 229,524.05" fill="#1ec882" fill-opacity="0.6"/>
<polygon points="188.7,513.6 175,521.7 188.7,529.8" fill="#1ec882" fill-opacity="0.6"/>
<polygon points="57.7,521.29 12.45,575.31 16.05,578.33 61.3,524.31" fill="#1ec882" fill-opacity="0.6"/>
<polygon points="14.59,563.8 12,579.5 27.01,574.2" fill="#1ec882" fill-opacity="0.6"/>
<polygon points="57.73,524.35 105.23,578.52 108.76,575.42 61.27,521.25" fill="#1ec882" fill-opacity="0.6"/>
<polygon points="94.18,574.64 109.3,579.6 106.36,563.96" fill="#1ec882" fill-opacity="0.6"/>
<polygon points="105.74,573.94 132.46,576.94 132.98,572.27 106.26,569.26" fill="#1ec882" fill-opacity="0.6"/>
<polygon points="121.68,581.52 136.2,575 123.49,565.42" fill="#1ec882" fill-opacity="0.6"/>
<polygon points="104.22,619.66 59.21,671.72 62.77,674.79 107.78,622.74" fill="#1ec882" fill-opacity="0.6"/>
<polygon points="61.53,660.24 58.7,675.9 73.79,670.84" fill="#1ec882" fill-opacity="0.6"/>
<polygon points="81.5,672.35 33.3,672.35 33.3,677.05 81.5,677.05" fill="#1ec882" fill-opacity="0.6"/>
<polygon points="43.5,666.6 29.8,674.7 43.5,682.8" fill="#1ec882" fill-opacity="0.6"/>
<polygon points="59.25,673.57 146.01,769.87 149.5,766.73 62.75,670.43" fill="#1ec882" fill-opacity="0.6"/>
<polygon points="134.91,766.14 150.1,770.9 146.95,755.3" fill="#1ec882" fill-opacity="0.6"/>
<polygon points="56.44,748.94 13.46,797.62 16.98,800.73 59.96,752.06" fill="#1ec882" fill-opacity="0.6"/>
<polygon points="15.9,786.17 12.9,801.8 28.04,796.89" fill="#1ec882" fill-opacity="0.6"/>
<polygon points="148.16,771.33 104.85,825.5 108.52,828.43 151.84,774.27" fill="#1ec882" fill-opacity="0.6"/>
<polygon points="106.73,813.94 104.5,829.7 119.38,824.06" fill="#1ec882" fill-opacity="0.6"/>
<polygon points="107,825.1 58,825.1 58,829.3 107,829.3" fill="#1ec882" fill-opacity="0.6"/>
<polygon points="68.7,819.1 54.5,827.2 68.7,835.3" fill="#1ec882" fill-opacity="0.6"/>
<polygon points="128.3,800.5 174.6,800.5 174.6,796.5 128.3,796.5" fill="#1ec882" fill-opacity="0.6"/>
<polygon points="148.25,774.37 196.71,828.46 200.21,825.33 151.75,771.23" fill="#1ec882" fill-opacity="0.6"/>
<polygon points="185.63,824.7 200.8,829.5 197.69,813.89" fill="#1ec882" fill-opacity="0.6"/>
<polygon points="238.62,722.36 194.41,773.42 197.97,776.49 242.18,725.44" fill="#1ec882" fill-opacity="0.6"/>
<polygon points="196.74,761.94 193.9,777.6 208.99,772.55" fill="#1ec882" fill-opacity="0.6"/>
<polygon points="238.64,725.56 286.72,779.65 290.23,776.52 242.16,722.44" fill="#1ec882" fill-opacity="0.6"/>
<polygon points="275.64,775.84 290.8,780.7 287.75,765.08" fill="#1ec882" fill-opacity="0.6"/>
<polygon points="489.49,775.61 538.49,827.57 541.91,824.34 492.91,772.39" fill="#1ec882" fill-opacity="0.6"/>
<polygon points="527.31,824.09 542.6,828.5 539.09,812.98" fill="#1ec882" fill-opacity="0.6"/>
<polygon points="650.05,776.97 698.51,830.87 702.01,827.73 653.55,773.83" fill="#1ec882" fill-opacity="0.6"/>
<polygon points="687.42,827.13 702.6,831.9 699.46,816.3" fill="#1ec882" fill-opacity="0.6"/>
<polygon points="763.67,776.99 813,830.81 816.47,827.63 767.13,773.81" fill="#1ec882" fill-opacity="0.6"/>
<polygon points="801.87,827.17 817.1,831.8 813.81,816.23" fill="#1ec882" fill-opacity="0.6"/>
<g font-size="17" font-weight="bold" fill="#000000" stroke="#000000" stroke-width="0.3">
<text transform="translate(214.0,807.2) scale(1.155,1)">2026059</text>
<text x="290.6" y="807.2">期</text>
<text transform="translate(214.0,832.4) scale(1.155,1)">2026060</text>
<text x="290.6" y="832.4">期</text>
</g>
<line x1="0" y1="0.55" x2="920" y2="0.55" stroke="#d2d3d5" stroke-width="1.1" stroke-dasharray="4.6 5.4" stroke-dashoffset="-4.3"/>
<line x1="0" y1="865.6" x2="915" y2="865.6" stroke="#d0d2d4" stroke-width="1.4" stroke-dasharray="4.7 5.3" stroke-dashoffset="0.9"/>
<line x1="916.9" y1="0" x2="916.9" y2="867" stroke="#c6cace" stroke-width="2.2" stroke-dasharray="4.3 5.7" stroke-dashoffset="-0.2"/>
<rect x="912.2" y="862.8" width="2.7" height="2.7" fill="#d01818"/>
</svg>
</body></html>
